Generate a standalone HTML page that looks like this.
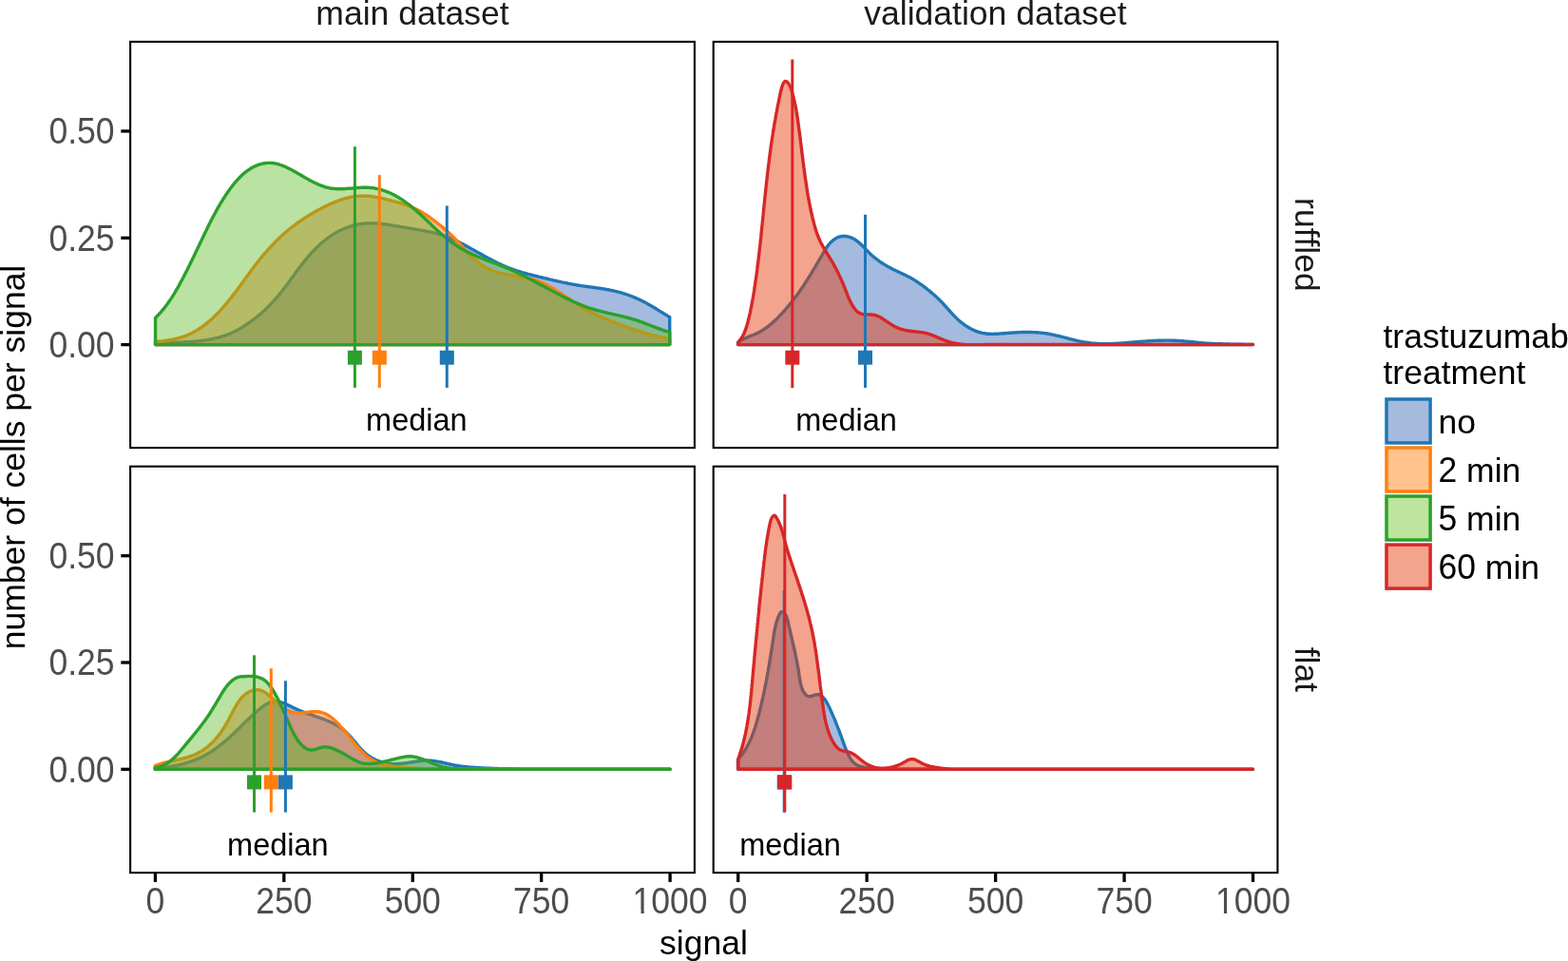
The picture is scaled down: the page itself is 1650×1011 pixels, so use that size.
<!DOCTYPE html>
<html><head><meta charset="utf-8"><title>density plot</title>
<style>html,body{margin:0;padding:0;background:#fff;}body{width:1650px;height:1011px;overflow:hidden;}svg{display:block;font-variant-ligatures:none;font-kerning:none;}</style>
</head><body>
<svg width="1650" height="1011" viewBox="0 0 1650 1011" font-family="'Liberation Sans', Arial, Helvetica, sans-serif">
<rect width="1650" height="1011" fill="#fff"/>
<g>
<path d="M163.50,362.60 L163.5,361.0 L165.1,360.9 L166.5,360.9 L168.0,360.8 L169.4,360.8 L170.9,360.7 L172.4,360.7 L173.9,360.6 L175.4,360.6 L176.8,360.5 L178.3,360.5 L179.8,360.4 L181.3,360.4 L182.8,360.3 L184.3,360.3 L185.8,360.2 L187.4,360.2 L188.9,360.1 L190.4,360.1 L191.9,360.0 L193.4,359.9 L194.9,359.8 L196.5,359.8 L198.0,359.7 L199.5,359.6 L201.0,359.5 L202.5,359.4 L204.0,359.2 L205.6,359.1 L207.1,359.0 L208.6,358.8 L210.1,358.6 L211.6,358.5 L213.1,358.3 L214.6,358.1 L216.1,357.9 L217.6,357.6 L219.0,357.4 L220.5,357.1 L222.0,356.8 L223.5,356.6 L224.9,356.2 L226.4,355.9 L227.8,355.6 L229.3,355.2 L230.7,354.8 L232.1,354.4 L233.5,354.0 L234.9,353.5 L236.3,353.1 L237.7,352.6 L239.1,352.1 L240.5,351.5 L241.9,351.0 L243.2,350.4 L244.6,349.8 L245.9,349.2 L247.2,348.5 L248.6,347.8 L249.9,347.2 L251.2,346.4 L252.5,345.7 L253.8,344.9 L255.1,344.2 L256.4,343.4 L257.6,342.6 L258.9,341.7 L260.1,340.9 L261.4,340.0 L262.6,339.2 L263.8,338.3 L265.0,337.4 L266.2,336.5 L267.4,335.6 L268.6,334.7 L269.8,333.7 L271.0,332.8 L272.1,331.8 L273.3,330.9 L274.4,329.9 L275.5,328.9 L276.7,327.9 L277.8,326.9 L278.9,325.9 L280.0,324.9 L281.0,323.8 L282.1,322.8 L283.2,321.7 L284.2,320.6 L285.3,319.6 L286.3,318.5 L287.3,317.4 L288.3,316.3 L289.3,315.2 L290.3,314.0 L291.3,312.9 L292.3,311.8 L293.2,310.6 L294.2,309.4 L295.1,308.3 L296.1,307.1 L297.0,305.9 L297.9,304.7 L298.8,303.5 L299.8,302.3 L300.7,301.1 L301.6,299.9 L302.5,298.7 L303.4,297.5 L304.3,296.3 L305.2,295.1 L306.0,293.8 L306.9,292.6 L307.8,291.4 L308.7,290.2 L309.6,289.0 L310.5,287.7 L311.4,286.5 L312.3,285.3 L313.2,284.1 L314.1,282.9 L315.0,281.7 L315.9,280.5 L316.8,279.3 L317.7,278.1 L318.7,276.9 L319.6,275.7 L320.5,274.5 L321.5,273.4 L322.4,272.2 L323.4,271.1 L324.3,269.9 L325.3,268.8 L326.3,267.7 L327.3,266.5 L328.3,265.4 L329.4,264.3 L330.4,263.3 L331.4,262.2 L332.5,261.1 L333.6,260.1 L334.7,259.1 L335.8,258.0 L336.9,257.0 L338.0,256.0 L339.1,255.1 L340.3,254.1 L341.4,253.2 L342.6,252.2 L343.8,251.3 L345.0,250.4 L346.2,249.6 L347.4,248.7 L348.6,247.9 L349.9,247.1 L351.2,246.3 L352.4,245.5 L353.7,244.8 L355.0,244.0 L356.3,243.3 L357.7,242.6 L359.0,242.0 L360.3,241.4 L361.7,240.7 L363.1,240.2 L364.5,239.6 L365.9,239.1 L367.3,238.6 L368.7,238.1 L370.1,237.6 L371.6,237.2 L373.0,236.8 L374.5,236.5 L375.9,236.2 L377.4,235.9 L378.9,235.6 L380.3,235.4 L381.8,235.3 L383.3,235.1 L384.8,235.0 L386.3,234.9 L387.8,234.9 L389.3,234.9 L390.8,234.9 L392.3,234.9 L393.8,234.9 L395.3,235.0 L396.8,235.1 L398.3,235.2 L399.8,235.4 L401.3,235.5 L402.8,235.7 L404.3,235.8 L405.8,236.0 L407.3,236.2 L408.8,236.4 L410.3,236.6 L411.8,236.9 L413.2,237.1 L414.7,237.3 L416.2,237.6 L417.7,237.8 L419.2,238.1 L420.7,238.3 L422.2,238.6 L423.6,238.9 L425.1,239.1 L426.6,239.4 L428.1,239.7 L429.6,239.9 L431.1,240.2 L432.6,240.4 L434.0,240.7 L435.5,240.9 L437.0,241.2 L438.5,241.4 L440.0,241.7 L441.5,241.9 L442.9,242.2 L444.4,242.5 L445.9,242.7 L447.4,243.0 L448.8,243.3 L450.3,243.6 L451.8,243.9 L453.2,244.2 L454.7,244.5 L456.2,244.9 L457.6,245.2 L459.0,245.6 L460.5,246.0 L461.9,246.4 L463.3,246.8 L464.8,247.2 L466.2,247.7 L467.6,248.1 L469.0,248.6 L470.4,249.1 L471.8,249.7 L473.2,250.2 L474.5,250.8 L475.9,251.4 L477.3,252.0 L478.6,252.6 L480.0,253.2 L481.3,253.9 L482.7,254.5 L484.0,255.2 L485.3,255.9 L486.7,256.6 L488.0,257.3 L489.3,258.0 L490.7,258.7 L492.0,259.5 L493.3,260.2 L494.6,260.9 L495.9,261.7 L497.3,262.4 L498.6,263.1 L499.9,263.9 L501.2,264.6 L502.5,265.4 L503.8,266.1 L505.2,266.8 L506.5,267.6 L507.8,268.3 L509.1,269.0 L510.4,269.8 L511.8,270.5 L513.1,271.2 L514.4,271.9 L515.7,272.6 L517.1,273.3 L518.4,274.0 L519.7,274.7 L521.1,275.3 L522.4,276.0 L523.8,276.7 L525.1,277.3 L526.5,277.9 L527.8,278.6 L529.2,279.2 L530.5,279.8 L531.9,280.4 L533.3,281.0 L534.6,281.5 L536.0,282.1 L537.4,282.6 L538.8,283.1 L540.2,283.6 L541.6,284.1 L543.0,284.6 L544.4,285.1 L545.8,285.5 L547.3,285.9 L548.7,286.4 L550.1,286.8 L551.6,287.2 L553.0,287.6 L554.4,288.0 L555.9,288.4 L557.3,288.7 L558.8,289.1 L560.2,289.5 L561.7,289.8 L563.1,290.2 L564.6,290.5 L566.1,290.9 L567.5,291.3 L569.0,291.6 L570.5,292.0 L571.9,292.3 L573.4,292.7 L574.9,293.0 L576.3,293.4 L577.8,293.7 L579.3,294.1 L580.8,294.4 L582.2,294.8 L583.7,295.1 L585.2,295.4 L586.7,295.8 L588.1,296.1 L589.6,296.4 L591.1,296.8 L592.6,297.1 L594.0,297.4 L595.5,297.7 L597.0,298.0 L598.5,298.3 L600.0,298.6 L601.4,298.9 L602.9,299.2 L604.4,299.4 L605.9,299.7 L607.4,300.0 L608.8,300.2 L610.3,300.4 L611.8,300.7 L613.3,300.9 L614.8,301.1 L616.2,301.3 L617.7,301.5 L619.2,301.7 L620.7,301.9 L622.1,302.1 L623.6,302.3 L625.1,302.5 L626.6,302.7 L628.0,302.9 L629.5,303.1 L631.0,303.3 L632.4,303.5 L633.9,303.8 L635.4,304.0 L636.8,304.2 L638.3,304.5 L639.8,304.8 L641.2,305.0 L642.7,305.3 L644.2,305.6 L645.6,305.9 L647.1,306.3 L648.5,306.6 L650.0,307.0 L651.4,307.3 L652.9,307.7 L654.3,308.1 L655.7,308.6 L657.2,309.0 L658.6,309.5 L660.0,310.0 L661.5,310.5 L662.9,311.0 L664.3,311.5 L665.7,312.1 L667.1,312.7 L668.5,313.2 L669.9,313.9 L671.3,314.5 L672.6,315.1 L674.0,315.8 L675.4,316.4 L676.7,317.1 L678.1,317.8 L679.4,318.5 L680.7,319.2 L682.1,320.0 L683.4,320.7 L684.7,321.4 L686.0,322.2 L687.3,323.0 L688.6,323.7 L689.9,324.5 L691.2,325.3 L692.4,326.1 L693.7,326.9 L695.0,327.7 L696.2,328.4 L697.5,329.2 L698.7,330.0 L700.0,330.8 L701.2,331.6 L702.5,332.3 L703.7,333.1 L704.7,333.6 L704.70,362.60 Z" fill="rgb(56,101,183)" fill-opacity="0.450" stroke="#1f77b4" stroke-width="3.40" stroke-linejoin="round"/>
<path d="M163.50,362.60 L163.5,359.7 L164.9,359.5 L166.4,359.4 L167.9,359.2 L169.5,359.1 L171.0,358.9 L172.5,358.7 L174.0,358.5 L175.5,358.3 L176.9,358.0 L178.4,357.8 L179.9,357.5 L181.4,357.2 L182.9,356.9 L184.3,356.5 L185.8,356.2 L187.3,355.8 L188.7,355.4 L190.1,355.0 L191.6,354.5 L193.0,354.1 L194.4,353.6 L195.8,353.1 L197.2,352.5 L198.5,351.9 L199.9,351.3 L201.2,350.7 L202.6,350.0 L203.9,349.3 L205.2,348.6 L206.5,347.9 L207.7,347.1 L209.0,346.3 L210.3,345.5 L211.5,344.6 L212.7,343.8 L213.9,342.9 L215.2,342.0 L216.3,341.1 L217.5,340.1 L218.7,339.2 L219.8,338.2 L221.0,337.2 L222.1,336.2 L223.2,335.2 L224.3,334.2 L225.4,333.1 L226.5,332.1 L227.6,331.0 L228.6,329.9 L229.7,328.9 L230.7,327.8 L231.7,326.7 L232.8,325.6 L233.8,324.4 L234.8,323.3 L235.7,322.2 L236.7,321.1 L237.7,319.9 L238.7,318.8 L239.6,317.6 L240.6,316.5 L241.5,315.3 L242.4,314.1 L243.3,313.0 L244.3,311.8 L245.2,310.6 L246.1,309.4 L247.0,308.2 L247.9,307.1 L248.8,305.9 L249.7,304.7 L250.6,303.5 L251.5,302.3 L252.4,301.1 L253.2,299.9 L254.1,298.7 L255.0,297.4 L255.9,296.2 L256.8,295.0 L257.6,293.8 L258.5,292.6 L259.4,291.4 L260.3,290.2 L261.2,289.0 L262.1,287.8 L263.0,286.6 L263.8,285.3 L264.7,284.1 L265.6,282.9 L266.5,281.7 L267.5,280.5 L268.4,279.3 L269.3,278.1 L270.2,277.0 L271.1,275.8 L272.1,274.6 L273.0,273.4 L274.0,272.2 L274.9,271.1 L275.9,269.9 L276.8,268.7 L277.8,267.6 L278.8,266.4 L279.8,265.3 L280.8,264.1 L281.8,263.0 L282.8,261.9 L283.8,260.8 L284.8,259.7 L285.8,258.6 L286.9,257.5 L287.9,256.4 L288.9,255.3 L290.0,254.2 L291.1,253.1 L292.1,252.1 L293.2,251.0 L294.3,250.0 L295.4,249.0 L296.5,248.0 L297.6,247.0 L298.7,246.0 L299.8,245.0 L301.0,244.0 L302.1,243.0 L303.2,242.1 L304.4,241.1 L305.5,240.2 L306.7,239.3 L307.9,238.4 L309.1,237.5 L310.3,236.6 L311.5,235.7 L312.7,234.8 L313.9,233.9 L315.1,233.1 L316.3,232.3 L317.6,231.4 L318.8,230.6 L320.0,229.8 L321.3,229.0 L322.6,228.2 L323.8,227.4 L325.1,226.6 L326.4,225.8 L327.7,225.0 L329.0,224.3 L330.3,223.5 L331.6,222.8 L332.9,222.1 L334.2,221.3 L335.5,220.6 L336.9,219.9 L338.2,219.2 L339.5,218.5 L340.9,217.8 L342.3,217.1 L343.6,216.4 L345.0,215.8 L346.4,215.1 L347.7,214.5 L349.1,213.9 L350.5,213.3 L351.9,212.7 L353.3,212.1 L354.7,211.6 L356.1,211.0 L357.5,210.5 L358.9,210.0 L360.4,209.6 L361.8,209.1 L363.2,208.7 L364.7,208.3 L366.1,208.0 L367.6,207.6 L369.0,207.3 L370.5,207.1 L371.9,206.9 L373.4,206.7 L374.9,206.5 L376.4,206.4 L377.8,206.2 L379.3,206.2 L380.8,206.1 L382.3,206.1 L383.8,206.1 L385.3,206.2 L386.7,206.3 L388.2,206.4 L389.7,206.5 L391.2,206.7 L392.7,206.9 L394.2,207.1 L395.7,207.4 L397.2,207.6 L398.7,207.9 L400.2,208.2 L401.7,208.6 L403.1,208.9 L404.6,209.2 L406.1,209.6 L407.6,210.0 L409.0,210.3 L410.5,210.7 L412.0,211.1 L413.4,211.5 L414.9,211.9 L416.4,212.3 L417.8,212.7 L419.2,213.1 L420.7,213.5 L422.1,213.9 L423.5,214.4 L425.0,214.8 L426.4,215.3 L427.8,215.8 L429.2,216.3 L430.6,216.8 L431.9,217.4 L433.3,217.9 L434.7,218.5 L436.0,219.1 L437.4,219.8 L438.7,220.4 L440.0,221.1 L441.4,221.8 L442.7,222.5 L444.0,223.3 L445.2,224.1 L446.5,224.9 L447.8,225.7 L449.1,226.5 L450.3,227.3 L451.5,228.2 L452.8,229.1 L454.0,230.0 L455.2,230.8 L456.4,231.7 L457.6,232.7 L458.8,233.6 L460.0,234.5 L461.2,235.4 L462.3,236.3 L463.5,237.2 L464.6,238.2 L465.8,239.1 L466.9,240.1 L468.0,241.0 L469.1,242.0 L470.2,243.0 L471.3,244.0 L472.4,244.9 L473.5,246.0 L474.6,247.0 L475.7,248.0 L476.7,249.0 L477.8,250.1 L478.9,251.2 L479.9,252.3 L480.9,253.4 L482.0,254.5 L483.0,255.6 L484.0,256.7 L485.1,257.9 L486.1,259.0 L487.1,260.2 L488.2,261.3 L489.2,262.5 L490.2,263.6 L491.3,264.7 L492.3,265.9 L493.3,267.0 L494.4,268.1 L495.5,269.2 L496.5,270.2 L497.6,271.3 L498.7,272.3 L499.8,273.4 L501.0,274.4 L502.1,275.3 L503.2,276.3 L504.4,277.2 L505.6,278.1 L506.8,278.9 L508.0,279.7 L509.3,280.5 L510.5,281.2 L511.8,281.9 L513.1,282.6 L514.5,283.2 L515.8,283.8 L517.2,284.3 L518.6,284.8 L520.0,285.3 L521.4,285.8 L522.8,286.2 L524.2,286.7 L525.7,287.1 L527.1,287.4 L528.6,287.8 L530.0,288.1 L531.5,288.4 L533.0,288.7 L534.5,289.0 L536.0,289.3 L537.5,289.6 L539.0,289.8 L540.5,290.1 L542.0,290.3 L543.4,290.6 L544.9,290.8 L546.4,291.0 L547.9,291.3 L549.4,291.5 L550.9,291.8 L552.3,292.0 L553.8,292.3 L555.2,292.6 L556.7,292.9 L558.1,293.2 L559.5,293.6 L560.9,294.0 L562.4,294.4 L563.8,294.9 L565.2,295.3 L566.6,295.9 L568.0,296.4 L569.3,297.0 L570.7,297.6 L572.1,298.2 L573.4,298.9 L574.8,299.5 L576.1,300.3 L577.4,301.0 L578.8,301.7 L580.1,302.5 L581.4,303.2 L582.7,304.0 L584.0,304.8 L585.3,305.6 L586.6,306.4 L587.9,307.2 L589.1,308.0 L590.4,308.8 L591.7,309.6 L592.9,310.5 L594.2,311.3 L595.4,312.1 L596.7,313.0 L597.9,313.8 L599.2,314.6 L600.5,315.5 L601.7,316.3 L603.0,317.1 L604.2,318.0 L605.5,318.8 L606.7,319.6 L608.0,320.4 L609.2,321.2 L610.5,322.0 L611.8,322.8 L613.1,323.5 L614.3,324.3 L615.6,325.1 L616.9,325.8 L618.2,326.5 L619.5,327.2 L620.8,327.9 L622.2,328.6 L623.5,329.3 L624.8,330.0 L626.2,330.6 L627.5,331.3 L628.9,331.9 L630.2,332.5 L631.6,333.1 L633.0,333.7 L634.3,334.3 L635.7,334.9 L637.1,335.4 L638.5,336.0 L639.9,336.5 L641.3,337.1 L642.7,337.6 L644.1,338.2 L645.5,338.7 L646.9,339.2 L648.3,339.8 L649.7,340.3 L651.1,340.8 L652.5,341.3 L653.9,341.9 L655.3,342.4 L656.8,342.9 L658.2,343.4 L659.6,343.9 L661.0,344.4 L662.4,344.9 L663.9,345.4 L665.3,345.9 L666.7,346.4 L668.1,346.9 L669.6,347.3 L671.0,347.8 L672.4,348.3 L673.9,348.7 L675.3,349.2 L676.7,349.6 L678.2,350.1 L679.6,350.5 L681.0,350.9 L682.5,351.4 L683.9,351.8 L685.4,352.2 L686.8,352.6 L688.3,352.9 L689.7,353.3 L691.2,353.7 L692.6,354.1 L694.1,354.4 L695.5,354.7 L697.0,355.1 L698.4,355.4 L699.9,355.7 L701.3,356.0 L702.8,356.3 L704.3,356.6 L704.7,356.7 L704.70,362.60 Z" fill="rgb(243,110,20)" fill-opacity="0.454" stroke="#ff7f0e" stroke-width="3.40" stroke-linejoin="round"/>
<path d="M163.50,362.60 L163.5,334.5 L164.5,333.4 L165.6,332.3 L166.7,331.2 L167.7,330.1 L168.8,328.9 L169.8,327.8 L170.7,326.6 L171.7,325.5 L172.7,324.3 L173.6,323.1 L174.5,321.9 L175.4,320.7 L176.3,319.5 L177.1,318.3 L178.0,317.1 L178.8,315.9 L179.7,314.6 L180.5,313.4 L181.3,312.2 L182.1,310.9 L182.9,309.6 L183.6,308.4 L184.4,307.1 L185.1,305.8 L185.9,304.5 L186.6,303.3 L187.4,302.0 L188.1,300.7 L188.8,299.4 L189.5,298.1 L190.2,296.7 L190.9,295.4 L191.7,294.1 L192.4,292.8 L193.1,291.5 L193.7,290.1 L194.4,288.8 L195.1,287.4 L195.8,286.1 L196.5,284.8 L197.2,283.4 L197.9,282.1 L198.5,280.7 L199.2,279.4 L199.9,278.0 L200.5,276.6 L201.2,275.3 L201.9,273.9 L202.5,272.6 L203.2,271.2 L203.9,269.8 L204.5,268.5 L205.2,267.1 L205.8,265.7 L206.5,264.4 L207.1,263.0 L207.8,261.7 L208.4,260.3 L209.1,258.9 L209.7,257.6 L210.4,256.2 L211.0,254.8 L211.7,253.5 L212.3,252.1 L213.0,250.8 L213.6,249.4 L214.3,248.1 L214.9,246.7 L215.6,245.4 L216.2,244.0 L216.9,242.7 L217.5,241.3 L218.2,240.0 L218.8,238.7 L219.5,237.3 L220.1,236.0 L220.8,234.7 L221.5,233.4 L222.1,232.0 L222.8,230.7 L223.5,229.4 L224.2,228.1 L224.9,226.8 L225.6,225.5 L226.3,224.2 L227.0,222.9 L227.7,221.6 L228.4,220.3 L229.1,219.0 L229.9,217.7 L230.6,216.4 L231.4,215.1 L232.1,213.8 L232.9,212.6 L233.7,211.3 L234.5,210.0 L235.3,208.7 L236.1,207.5 L236.9,206.2 L237.8,204.9 L238.6,203.7 L239.5,202.4 L240.3,201.2 L241.2,199.9 L242.1,198.7 L243.0,197.5 L244.0,196.2 L244.9,195.0 L245.9,193.8 L246.8,192.6 L247.8,191.5 L248.8,190.3 L249.8,189.2 L250.9,188.1 L251.9,187.0 L253.0,185.9 L254.1,184.8 L255.2,183.8 L256.3,182.8 L257.4,181.9 L258.6,180.9 L259.8,180.0 L261.0,179.1 L262.2,178.3 L263.4,177.5 L264.7,176.7 L266.0,176.0 L267.3,175.3 L268.6,174.7 L270.0,174.1 L271.3,173.6 L272.7,173.1 L274.1,172.7 L275.6,172.3 L277.1,172.0 L278.5,171.8 L280.0,171.6 L281.5,171.4 L283.0,171.4 L284.5,171.4 L286.0,171.5 L287.4,171.6 L288.9,171.8 L290.3,172.1 L291.8,172.4 L293.2,172.8 L294.6,173.3 L296.0,173.7 L297.4,174.3 L298.8,174.8 L300.2,175.4 L301.5,176.0 L302.9,176.7 L304.2,177.4 L305.6,178.1 L306.9,178.8 L308.3,179.5 L309.6,180.2 L311.0,181.0 L312.3,181.7 L313.6,182.5 L315.0,183.3 L316.3,184.0 L317.6,184.8 L318.9,185.6 L320.3,186.4 L321.6,187.1 L322.9,187.9 L324.2,188.6 L325.6,189.4 L326.9,190.1 L328.2,190.8 L329.6,191.5 L330.9,192.1 L332.3,192.8 L333.6,193.4 L335.0,194.0 L336.3,194.6 L337.7,195.1 L339.1,195.6 L340.5,196.1 L341.9,196.6 L343.3,197.0 L344.7,197.3 L346.1,197.7 L347.5,198.0 L349.0,198.2 L350.4,198.4 L351.9,198.5 L353.4,198.6 L354.8,198.7 L356.3,198.8 L357.8,198.8 L359.3,198.7 L360.9,198.7 L362.4,198.6 L363.9,198.5 L365.4,198.4 L366.9,198.3 L368.5,198.2 L370.0,198.1 L371.5,198.0 L373.1,197.8 L374.6,197.7 L376.1,197.6 L377.7,197.5 L379.2,197.4 L380.7,197.3 L382.2,197.3 L383.8,197.3 L385.3,197.3 L386.8,197.3 L388.3,197.4 L389.8,197.5 L391.2,197.6 L392.7,197.8 L394.2,198.0 L395.6,198.3 L397.1,198.6 L398.5,198.9 L399.9,199.3 L401.3,199.7 L402.7,200.1 L404.1,200.6 L405.5,201.0 L406.9,201.6 L408.3,202.1 L409.7,202.7 L411.0,203.3 L412.4,204.0 L413.7,204.6 L415.0,205.3 L416.3,206.0 L417.6,206.8 L418.9,207.5 L420.2,208.3 L421.5,209.1 L422.8,209.9 L424.0,210.7 L425.3,211.6 L426.5,212.5 L427.7,213.4 L429.0,214.3 L430.2,215.2 L431.4,216.1 L432.6,217.0 L433.7,218.0 L434.9,219.0 L436.1,219.9 L437.2,220.9 L438.4,221.9 L439.5,222.9 L440.6,223.9 L441.7,224.9 L442.8,225.9 L443.9,226.9 L445.0,227.9 L446.1,228.9 L447.1,230.0 L448.2,231.0 L449.3,232.0 L450.4,233.0 L451.4,234.1 L452.5,235.1 L453.6,236.1 L454.6,237.1 L455.7,238.2 L456.8,239.2 L457.8,240.2 L458.9,241.2 L460.0,242.2 L461.1,243.2 L462.2,244.2 L463.3,245.2 L464.4,246.2 L465.5,247.2 L466.7,248.1 L467.8,249.1 L469.0,250.0 L470.1,251.0 L471.3,251.9 L472.5,252.8 L473.7,253.7 L475.0,254.6 L476.2,255.5 L477.4,256.4 L478.7,257.3 L480.0,258.1 L481.2,258.9 L482.5,259.7 L483.8,260.5 L485.1,261.3 L486.5,262.1 L487.8,262.8 L489.1,263.6 L490.4,264.3 L491.8,265.0 L493.1,265.6 L494.5,266.3 L495.9,267.0 L497.2,267.6 L498.6,268.2 L500.0,268.8 L501.3,269.4 L502.7,270.0 L504.1,270.5 L505.5,271.1 L506.9,271.7 L508.3,272.2 L509.7,272.8 L511.1,273.3 L512.5,273.8 L513.9,274.4 L515.3,274.9 L516.7,275.4 L518.1,275.9 L519.5,276.5 L520.9,277.0 L522.3,277.5 L523.7,278.1 L525.1,278.6 L526.5,279.1 L527.8,279.7 L529.2,280.3 L530.6,280.8 L532.0,281.4 L533.4,282.0 L534.7,282.6 L536.1,283.2 L537.5,283.8 L538.8,284.4 L540.2,285.0 L541.5,285.6 L542.9,286.3 L544.2,286.9 L545.6,287.5 L546.9,288.2 L548.3,288.8 L549.6,289.5 L551.0,290.2 L552.3,290.8 L553.6,291.5 L555.0,292.2 L556.3,292.9 L557.6,293.6 L559.0,294.3 L560.3,294.9 L561.6,295.6 L563.0,296.3 L564.3,297.0 L565.6,297.7 L566.9,298.4 L568.3,299.2 L569.6,299.9 L570.9,300.6 L572.3,301.3 L573.6,302.0 L574.9,302.7 L576.2,303.4 L577.6,304.1 L578.9,304.9 L580.2,305.6 L581.6,306.3 L582.9,307.0 L584.2,307.7 L585.6,308.4 L586.9,309.1 L588.2,309.8 L589.6,310.5 L590.9,311.2 L592.3,311.9 L593.6,312.6 L595.0,313.3 L596.3,313.9 L597.7,314.6 L599.0,315.3 L600.4,315.9 L601.7,316.6 L603.1,317.2 L604.5,317.8 L605.8,318.4 L607.2,319.0 L608.6,319.6 L609.9,320.2 L611.3,320.7 L612.7,321.3 L614.1,321.8 L615.5,322.4 L616.9,322.9 L618.3,323.4 L619.7,323.8 L621.1,324.3 L622.5,324.7 L623.9,325.2 L625.4,325.6 L626.8,326.0 L628.2,326.4 L629.7,326.8 L631.1,327.2 L632.5,327.5 L634.0,327.9 L635.4,328.2 L636.9,328.6 L638.3,328.9 L639.8,329.3 L641.2,329.6 L642.7,329.9 L644.1,330.3 L645.6,330.6 L647.0,330.9 L648.5,331.3 L650.0,331.6 L651.4,331.9 L652.9,332.3 L654.3,332.6 L655.8,333.0 L657.3,333.4 L658.7,333.7 L660.2,334.1 L661.6,334.5 L663.1,334.9 L664.5,335.3 L666.0,335.8 L667.4,336.2 L668.9,336.7 L670.3,337.1 L671.8,337.6 L673.2,338.1 L674.7,338.6 L676.1,339.2 L677.5,339.7 L679.0,340.3 L680.4,340.8 L681.8,341.4 L683.3,341.9 L684.7,342.5 L686.1,343.0 L687.5,343.6 L688.9,344.1 L690.3,344.6 L691.7,345.2 L693.1,345.7 L694.5,346.2 L695.9,346.7 L697.2,347.2 L698.6,347.6 L700.0,348.1 L701.3,348.5 L702.7,348.9 L704.0,349.3 L704.7,349.4 L704.70,362.60 Z" fill="rgb(87,187,36)" fill-opacity="0.421" stroke="#2ca02c" stroke-width="3.40" stroke-linejoin="round"/>
<line x1="470.30" y1="216.50" x2="470.30" y2="407.90" stroke="#1f77b4" stroke-width="3"/>
<rect x="462.80" y="368.70" width="15" height="15" fill="#1f77b4"/>
<line x1="399.30" y1="184.10" x2="399.30" y2="407.90" stroke="#ff7f0e" stroke-width="3"/>
<rect x="391.80" y="368.70" width="15" height="15" fill="#ff7f0e"/>
<line x1="373.40" y1="154.20" x2="373.40" y2="407.90" stroke="#2ca02c" stroke-width="3"/>
<rect x="365.90" y="368.70" width="15" height="15" fill="#2ca02c"/>
<text x="438.40" y="452.80" font-size="32.5" text-anchor="middle" fill="#000">median</text>
<rect x="137.10" y="43.90" width="593.80" height="427.20" fill="none" stroke="#000" stroke-width="2.1"/>
</g>
<g>
<path d="M776.50,362.60 L776.5,360.5 L777.5,359.6 L778.7,358.8 L780.0,358.0 L781.3,357.3 L782.6,356.6 L783.9,356.0 L785.2,355.4 L786.6,354.8 L788.0,354.2 L789.3,353.7 L790.7,353.1 L792.1,352.5 L793.5,352.0 L794.9,351.4 L796.2,350.7 L797.6,350.1 L798.9,349.4 L800.2,348.7 L801.6,348.0 L802.8,347.2 L804.1,346.4 L805.4,345.5 L806.6,344.6 L807.8,343.7 L809.0,342.8 L810.2,341.8 L811.4,340.9 L812.5,339.9 L813.6,338.8 L814.8,337.8 L815.9,336.8 L817.0,335.7 L818.1,334.6 L819.1,333.6 L820.2,332.5 L821.2,331.4 L822.3,330.3 L823.3,329.2 L824.3,328.1 L825.3,327.0 L826.3,325.9 L827.3,324.8 L828.2,323.6 L829.2,322.5 L830.1,321.4 L831.1,320.2 L832.0,319.1 L832.9,317.9 L833.8,316.7 L834.7,315.6 L835.6,314.4 L836.5,313.2 L837.4,312.1 L838.3,310.9 L839.2,309.7 L840.0,308.5 L840.9,307.3 L841.7,306.1 L842.6,304.8 L843.4,303.6 L844.2,302.4 L845.0,301.2 L845.9,299.9 L846.7,298.7 L847.5,297.4 L848.3,296.2 L849.1,294.9 L849.9,293.7 L850.7,292.4 L851.5,291.1 L852.3,289.9 L853.1,288.6 L853.9,287.3 L854.6,286.0 L855.4,284.7 L856.2,283.4 L857.0,282.1 L857.8,280.8 L858.5,279.5 L859.3,278.2 L860.1,276.8 L860.9,275.5 L861.7,274.2 L862.4,272.8 L863.2,271.5 L864.0,270.1 L864.8,268.8 L865.6,267.4 L866.4,266.1 L867.1,264.7 L868.0,263.4 L868.8,262.1 L869.6,260.8 L870.5,259.5 L871.4,258.3 L872.3,257.1 L873.3,256.0 L874.2,254.9 L875.3,253.9 L876.4,252.9 L877.5,252.1 L878.7,251.3 L879.9,250.6 L881.2,249.9 L882.5,249.4 L883.9,249.0 L885.3,248.7 L886.7,248.5 L888.1,248.4 L889.6,248.5 L891.0,248.7 L892.4,248.9 L893.8,249.3 L895.2,249.8 L896.6,250.4 L897.9,251.1 L899.2,251.8 L900.5,252.6 L901.8,253.5 L903.0,254.5 L904.2,255.4 L905.3,256.4 L906.4,257.5 L907.5,258.6 L908.6,259.6 L909.7,260.7 L910.7,261.8 L911.7,263.0 L912.8,264.0 L913.8,265.1 L914.9,266.2 L916.0,267.2 L917.1,268.3 L918.2,269.3 L919.4,270.2 L920.5,271.2 L921.7,272.1 L922.9,273.0 L924.1,273.9 L925.3,274.8 L926.6,275.7 L927.8,276.5 L929.1,277.3 L930.4,278.1 L931.6,278.9 L932.9,279.6 L934.2,280.4 L935.5,281.1 L936.9,281.8 L938.2,282.5 L939.5,283.2 L940.8,283.8 L942.2,284.5 L943.5,285.1 L944.8,285.7 L946.2,286.4 L947.5,287.0 L948.9,287.6 L950.2,288.2 L951.5,288.9 L952.9,289.5 L954.2,290.2 L955.5,290.9 L956.9,291.6 L958.2,292.3 L959.5,293.1 L960.8,293.8 L962.1,294.6 L963.4,295.4 L964.7,296.2 L965.9,297.1 L967.2,297.9 L968.5,298.8 L969.7,299.6 L970.9,300.5 L972.1,301.4 L973.4,302.4 L974.6,303.3 L975.7,304.2 L976.9,305.2 L978.1,306.1 L979.3,307.1 L980.4,308.0 L981.5,309.0 L982.7,310.0 L983.8,310.9 L984.9,311.9 L985.9,312.9 L987.0,313.9 L988.1,315.0 L989.1,316.0 L990.2,317.1 L991.2,318.1 L992.2,319.2 L993.2,320.3 L994.2,321.4 L995.2,322.5 L996.2,323.6 L997.2,324.7 L998.2,325.9 L999.2,327.0 L1000.2,328.1 L1001.2,329.2 L1002.2,330.3 L1003.2,331.4 L1004.3,332.5 L1005.4,333.6 L1006.4,334.6 L1007.5,335.7 L1008.6,336.7 L1009.8,337.7 L1010.9,338.7 L1012.1,339.6 L1013.3,340.5 L1014.6,341.4 L1015.8,342.3 L1017.1,343.2 L1018.4,344.0 L1019.7,344.7 L1021.0,345.5 L1022.3,346.2 L1023.7,346.9 L1025.1,347.5 L1026.4,348.1 L1027.8,348.6 L1029.2,349.1 L1030.6,349.5 L1032.1,349.9 L1033.5,350.3 L1034.9,350.6 L1036.4,350.8 L1037.8,351.0 L1039.3,351.2 L1040.7,351.3 L1042.2,351.3 L1043.7,351.4 L1045.1,351.4 L1046.6,351.3 L1048.1,351.3 L1049.6,351.2 L1051.1,351.1 L1052.6,351.0 L1054.1,350.9 L1055.6,350.8 L1057.1,350.7 L1058.6,350.5 L1060.1,350.4 L1061.6,350.3 L1063.1,350.2 L1064.6,350.1 L1066.1,350.0 L1067.7,349.9 L1069.2,349.8 L1070.7,349.7 L1072.2,349.6 L1073.7,349.6 L1075.2,349.5 L1076.7,349.5 L1078.2,349.5 L1079.7,349.4 L1081.2,349.4 L1082.7,349.5 L1084.2,349.5 L1085.7,349.5 L1087.2,349.6 L1088.7,349.6 L1090.2,349.7 L1091.7,349.8 L1093.2,349.9 L1094.7,350.1 L1096.2,350.2 L1097.7,350.4 L1099.1,350.6 L1100.6,350.8 L1102.1,351.0 L1103.6,351.3 L1105.1,351.5 L1106.5,351.8 L1108.0,352.1 L1109.5,352.4 L1111.0,352.8 L1112.5,353.1 L1113.9,353.5 L1115.4,353.8 L1116.9,354.2 L1118.3,354.6 L1119.8,354.9 L1121.3,355.3 L1122.8,355.7 L1124.2,356.1 L1125.7,356.5 L1127.2,356.9 L1128.6,357.2 L1130.1,357.6 L1131.6,358.0 L1133.0,358.3 L1134.5,358.7 L1136.0,359.0 L1137.5,359.3 L1138.9,359.6 L1140.4,359.8 L1141.9,360.1 L1143.3,360.3 L1144.8,360.5 L1146.3,360.7 L1147.8,360.9 L1149.2,361.1 L1150.7,361.2 L1152.2,361.3 L1153.7,361.5 L1155.1,361.5 L1156.6,361.6 L1158.1,361.7 L1159.6,361.7 L1161.1,361.7 L1162.6,361.7 L1164.0,361.7 L1165.5,361.7 L1167.0,361.7 L1168.5,361.6 L1170.0,361.6 L1171.5,361.5 L1173.0,361.5 L1174.4,361.4 L1175.9,361.3 L1177.4,361.2 L1178.9,361.1 L1180.4,361.0 L1181.9,360.9 L1183.4,360.8 L1184.9,360.7 L1186.4,360.5 L1187.9,360.4 L1189.4,360.3 L1190.9,360.2 L1192.4,360.0 L1193.8,359.9 L1195.3,359.8 L1196.8,359.7 L1198.3,359.5 L1199.8,359.4 L1201.3,359.3 L1202.8,359.2 L1204.3,359.1 L1205.8,359.0 L1207.3,358.9 L1208.8,358.8 L1210.3,358.7 L1211.8,358.6 L1213.3,358.5 L1214.8,358.4 L1216.3,358.4 L1217.8,358.3 L1219.3,358.3 L1220.8,358.2 L1222.3,358.2 L1223.8,358.1 L1225.3,358.1 L1226.9,358.1 L1228.4,358.1 L1229.9,358.1 L1231.4,358.1 L1232.9,358.2 L1234.4,358.2 L1235.9,358.3 L1237.4,358.3 L1238.9,358.4 L1240.4,358.5 L1241.9,358.6 L1243.4,358.7 L1244.9,358.8 L1246.4,359.0 L1247.9,359.1 L1249.4,359.2 L1250.9,359.4 L1252.4,359.5 L1253.9,359.7 L1255.4,359.8 L1256.9,360.0 L1258.4,360.2 L1259.9,360.3 L1261.4,360.5 L1262.9,360.6 L1264.4,360.7 L1265.9,360.9 L1267.4,361.0 L1268.9,361.1 L1270.4,361.2 L1271.9,361.3 L1273.4,361.4 L1274.9,361.4 L1276.4,361.5 L1277.9,361.6 L1279.4,361.6 L1280.9,361.7 L1282.4,361.7 L1283.9,361.8 L1285.4,361.8 L1286.9,361.9 L1288.4,361.9 L1289.9,362.0 L1291.4,362.0 L1292.8,362.0 L1294.3,362.1 L1295.8,362.1 L1297.3,362.1 L1298.8,362.2 L1300.3,362.2 L1301.8,362.2 L1303.3,362.3 L1304.8,362.3 L1306.3,362.3 L1307.7,362.3 L1309.2,362.4 L1310.7,362.4 L1312.2,362.4 L1313.7,362.4 L1315.2,362.5 L1316.6,362.5 L1318.1,362.5 L1318.5,362.5 L1318.50,362.60 Z" fill="rgb(56,101,183)" fill-opacity="0.450" stroke="#1f77b4" stroke-width="3.40" stroke-linejoin="round"/>
<path d="M776.90,362.60 L776.9,359.8 L778.0,358.5 L779.0,357.2 L780.0,356.0 L780.8,354.7 L781.6,353.3 L782.3,352.0 L783.0,350.7 L783.5,349.3 L784.1,348.0 L784.6,346.6 L785.0,345.2 L785.5,343.9 L785.9,342.5 L786.3,341.1 L786.7,339.7 L787.1,338.2 L787.4,336.8 L787.8,335.4 L788.2,333.9 L788.5,332.5 L788.8,331.0 L789.2,329.6 L789.5,328.1 L789.8,326.6 L790.1,325.2 L790.4,323.7 L790.7,322.2 L791.0,320.7 L791.3,319.2 L791.5,317.8 L791.8,316.3 L792.1,314.8 L792.3,313.3 L792.6,311.8 L792.8,310.3 L793.1,308.8 L793.3,307.3 L793.6,305.8 L793.8,304.3 L794.0,302.8 L794.2,301.3 L794.5,299.8 L794.7,298.3 L794.9,296.8 L795.1,295.4 L795.3,293.9 L795.6,292.4 L795.8,290.9 L796.0,289.4 L796.2,287.9 L796.4,286.4 L796.6,284.9 L796.8,283.4 L796.9,282.0 L797.1,280.5 L797.3,279.0 L797.5,277.5 L797.7,276.0 L797.9,274.5 L798.1,273.0 L798.2,271.5 L798.4,270.1 L798.6,268.6 L798.8,267.1 L798.9,265.6 L799.1,264.1 L799.3,262.6 L799.4,261.1 L799.6,259.6 L799.8,258.2 L799.9,256.7 L800.1,255.2 L800.2,253.7 L800.4,252.2 L800.6,250.7 L800.7,249.2 L800.9,247.8 L801.0,246.3 L801.2,244.8 L801.3,243.3 L801.5,241.8 L801.6,240.3 L801.8,238.8 L801.9,237.3 L802.1,235.9 L802.2,234.4 L802.4,232.9 L802.5,231.4 L802.7,229.9 L802.8,228.4 L803.0,226.9 L803.1,225.4 L803.3,223.9 L803.4,222.5 L803.6,221.0 L803.7,219.5 L803.9,218.0 L804.0,216.5 L804.2,215.0 L804.3,213.5 L804.5,212.0 L804.6,210.5 L804.8,209.0 L804.9,207.5 L805.1,206.0 L805.3,204.5 L805.4,203.0 L805.6,201.5 L805.7,200.0 L805.9,198.6 L806.0,197.1 L806.2,195.6 L806.4,194.1 L806.5,192.6 L806.7,191.1 L806.9,189.6 L807.0,188.1 L807.2,186.6 L807.4,185.1 L807.5,183.6 L807.7,182.1 L807.9,180.6 L808.1,179.1 L808.2,177.6 L808.4,176.1 L808.6,174.6 L808.8,173.1 L809.0,171.6 L809.2,170.2 L809.3,168.7 L809.5,167.2 L809.7,165.7 L809.9,164.2 L810.1,162.7 L810.3,161.2 L810.5,159.7 L810.7,158.3 L810.9,156.8 L811.1,155.3 L811.3,153.8 L811.5,152.3 L811.8,150.9 L812.0,149.4 L812.2,147.9 L812.4,146.4 L812.6,145.0 L812.8,143.5 L813.1,142.0 L813.3,140.5 L813.5,139.1 L813.8,137.6 L814.0,136.1 L814.3,134.7 L814.5,133.2 L814.7,131.7 L815.0,130.2 L815.2,128.8 L815.5,127.3 L815.8,125.8 L816.0,124.4 L816.3,122.9 L816.5,121.4 L816.8,119.9 L817.1,118.4 L817.4,117.0 L817.6,115.5 L817.9,114.0 L818.2,112.5 L818.5,111.0 L818.8,109.5 L819.1,108.0 L819.4,106.5 L819.7,105.0 L820.0,103.5 L820.3,102.0 L820.6,100.5 L821.0,99.0 L821.3,97.5 L821.6,96.0 L822.0,94.5 L822.4,93.0 L822.8,91.5 L823.3,90.1 L823.8,88.7 L824.5,87.3 L825.2,86.2 L826.0,85.5 L827.0,85.4 L828.0,85.9 L829.0,87.0 L830.0,88.4 L830.9,89.8 L831.6,91.2 L832.2,92.7 L832.7,94.1 L833.1,95.6 L833.5,97.0 L833.9,98.4 L834.3,99.9 L834.7,101.3 L835.1,102.8 L835.4,104.2 L835.8,105.7 L836.1,107.1 L836.4,108.6 L836.8,110.0 L837.1,111.5 L837.3,112.9 L837.6,114.4 L837.9,115.9 L838.1,117.3 L838.4,118.8 L838.6,120.3 L838.8,121.7 L839.0,123.2 L839.3,124.7 L839.5,126.2 L839.7,127.6 L839.9,129.1 L840.1,130.6 L840.3,132.1 L840.5,133.6 L840.7,135.0 L840.9,136.5 L841.1,138.0 L841.3,139.5 L841.5,141.0 L841.7,142.5 L841.9,144.0 L842.1,145.5 L842.2,147.0 L842.4,148.5 L842.6,150.0 L842.8,151.5 L843.0,153.0 L843.2,154.5 L843.4,156.0 L843.5,157.5 L843.7,159.0 L843.9,160.5 L844.1,162.0 L844.3,163.5 L844.5,165.0 L844.7,166.5 L844.8,168.0 L845.0,169.5 L845.2,171.0 L845.4,172.5 L845.6,174.0 L845.8,175.5 L846.0,177.0 L846.2,178.5 L846.4,180.0 L846.6,181.5 L846.8,183.0 L847.0,184.5 L847.2,186.0 L847.4,187.4 L847.6,188.9 L847.9,190.4 L848.1,191.9 L848.3,193.4 L848.5,194.9 L848.8,196.4 L849.0,197.9 L849.2,199.4 L849.5,200.8 L849.7,202.3 L850.0,203.8 L850.2,205.3 L850.5,206.8 L850.7,208.2 L851.0,209.7 L851.3,211.2 L851.5,212.6 L851.8,214.1 L852.1,215.6 L852.4,217.0 L852.7,218.5 L853.0,219.9 L853.3,221.4 L853.6,222.8 L853.9,224.3 L854.3,225.7 L854.6,227.2 L854.9,228.6 L855.3,230.0 L855.6,231.5 L856.0,232.9 L856.4,234.3 L856.7,235.7 L857.1,237.2 L857.5,238.6 L857.9,240.0 L858.3,241.4 L858.8,242.8 L859.2,244.2 L859.7,245.6 L860.2,247.0 L860.8,248.4 L861.3,249.8 L861.9,251.1 L862.5,252.5 L863.1,253.9 L863.8,255.3 L864.5,256.6 L865.2,258.0 L866.0,259.3 L866.8,260.7 L867.6,262.0 L868.4,263.4 L869.2,264.7 L870.0,266.0 L870.8,267.4 L871.6,268.7 L872.4,270.0 L873.2,271.3 L874.0,272.6 L874.8,273.9 L875.5,275.2 L876.3,276.5 L877.0,277.8 L877.7,279.1 L878.4,280.4 L879.1,281.7 L879.8,282.9 L880.5,284.2 L881.1,285.5 L881.8,286.8 L882.4,288.1 L883.0,289.4 L883.6,290.7 L884.3,292.0 L884.9,293.3 L885.4,294.6 L886.0,295.9 L886.6,297.3 L887.2,298.6 L887.7,300.0 L888.3,301.4 L888.9,302.7 L889.4,304.1 L890.0,305.5 L890.5,307.0 L891.1,308.4 L891.6,309.8 L892.2,311.3 L892.8,312.7 L893.4,314.2 L894.0,315.6 L894.7,317.0 L895.4,318.4 L896.1,319.7 L896.9,321.1 L897.7,322.4 L898.5,323.7 L899.5,324.9 L900.4,326.1 L901.5,327.2 L902.6,328.2 L903.8,329.0 L905.0,329.7 L906.4,330.2 L907.8,330.6 L909.2,330.8 L910.7,330.9 L912.2,330.9 L913.8,330.9 L915.3,330.9 L916.8,331.0 L918.3,331.1 L919.8,331.3 L921.2,331.7 L922.6,332.1 L924.0,332.7 L925.3,333.3 L926.6,334.0 L927.9,334.8 L929.2,335.6 L930.4,336.5 L931.7,337.3 L933.0,338.1 L934.2,339.0 L935.5,339.8 L936.8,340.7 L938.0,341.5 L939.3,342.2 L940.6,343.0 L941.9,343.7 L943.3,344.3 L944.6,344.9 L946.0,345.5 L947.4,346.0 L948.8,346.4 L950.3,346.8 L951.7,347.2 L953.2,347.5 L954.7,347.7 L956.1,348.0 L957.6,348.2 L959.1,348.4 L960.7,348.6 L962.2,348.7 L963.7,348.9 L965.2,349.1 L966.7,349.2 L968.2,349.4 L969.7,349.6 L971.1,349.8 L972.6,350.1 L974.1,350.4 L975.5,350.8 L976.9,351.2 L978.3,351.7 L979.7,352.1 L981.1,352.7 L982.5,353.2 L983.9,353.8 L985.3,354.4 L986.6,354.9 L988.0,355.5 L989.4,356.1 L990.8,356.7 L992.2,357.2 L993.6,357.8 L995.0,358.3 L996.4,358.8 L997.9,359.3 L999.3,359.8 L1000.8,360.2 L1002.2,360.6 L1003.7,360.9 L1005.1,361.2 L1006.6,361.5 L1008.1,361.8 L1009.5,362.0 L1011.0,362.2 L1012.5,362.3 L1014.0,362.4 L1015.5,362.5 L1017.0,362.6 L1018.5,362.6 L1019.9,362.6 L1021.4,362.6 L1022.9,362.6 L1024.4,362.6 L1025.9,362.6 L1027.5,362.6 L1029.0,362.6 L1030.5,362.6 L1032.0,362.6 L1033.5,362.6 L1035.0,362.6 L1036.5,362.5 L1038.0,362.5 L1039.5,362.5 L1041.0,362.5 L1042.5,362.5 L1044.0,362.5 L1045.5,362.5 L1047.0,362.5 L1048.5,362.5 L1050.0,362.4 L1051.5,362.4 L1053.0,362.4 L1054.5,362.4 L1056.0,362.4 L1057.5,362.4 L1059.0,362.4 L1060.5,362.4 L1062.0,362.4 L1063.5,362.4 L1065.0,362.4 L1066.5,362.4 L1068.0,362.4 L1069.5,362.4 L1071.0,362.4 L1072.5,362.4 L1074.0,362.4 L1075.5,362.4 L1077.0,362.4 L1078.5,362.4 L1080.0,362.4 L1081.5,362.4 L1083.0,362.5 L1084.5,362.5 L1086.0,362.5 L1087.5,362.5 L1089.0,362.5 L1090.5,362.5 L1092.0,362.5 L1093.5,362.5 L1095.0,362.5 L1096.5,362.5 L1098.0,362.5 L1099.5,362.5 L1101.0,362.5 L1102.5,362.5 L1104.0,362.5 L1105.5,362.5 L1107.0,362.5 L1108.5,362.5 L1110.0,362.5 L1111.5,362.5 L1113.0,362.5 L1114.5,362.5 L1116.0,362.5 L1117.5,362.5 L1119.0,362.5 L1120.5,362.5 L1122.0,362.5 L1123.5,362.5 L1125.0,362.5 L1126.5,362.5 L1128.0,362.5 L1129.5,362.5 L1131.0,362.5 L1132.5,362.5 L1134.0,362.5 L1135.5,362.5 L1137.0,362.5 L1138.5,362.5 L1140.0,362.5 L1141.5,362.5 L1143.0,362.5 L1144.5,362.5 L1146.0,362.5 L1147.5,362.5 L1149.0,362.5 L1150.5,362.5 L1152.0,362.5 L1153.5,362.5 L1155.0,362.5 L1156.5,362.5 L1158.0,362.5 L1159.5,362.5 L1161.0,362.5 L1162.5,362.5 L1164.0,362.5 L1165.5,362.5 L1167.0,362.5 L1168.5,362.5 L1170.0,362.5 L1171.5,362.5 L1173.0,362.5 L1174.5,362.5 L1176.0,362.5 L1177.5,362.5 L1179.0,362.5 L1180.5,362.5 L1182.0,362.5 L1183.5,362.5 L1185.0,362.5 L1186.5,362.5 L1188.0,362.5 L1189.5,362.5 L1191.0,362.5 L1192.5,362.5 L1194.0,362.5 L1195.5,362.5 L1197.0,362.5 L1198.5,362.5 L1200.0,362.5 L1201.5,362.5 L1203.0,362.5 L1204.5,362.5 L1206.0,362.5 L1207.5,362.5 L1209.0,362.5 L1210.5,362.5 L1212.0,362.5 L1213.5,362.5 L1215.0,362.5 L1216.5,362.5 L1218.0,362.5 L1219.5,362.5 L1221.0,362.5 L1222.5,362.5 L1224.0,362.5 L1225.5,362.5 L1227.0,362.5 L1228.5,362.5 L1230.0,362.5 L1231.5,362.5 L1233.0,362.5 L1234.5,362.5 L1236.0,362.5 L1237.5,362.5 L1239.0,362.5 L1240.5,362.5 L1242.0,362.5 L1243.5,362.5 L1245.0,362.5 L1246.5,362.5 L1248.0,362.5 L1249.5,362.5 L1251.0,362.5 L1252.5,362.5 L1254.0,362.5 L1255.5,362.5 L1257.0,362.5 L1258.5,362.5 L1260.0,362.5 L1261.5,362.5 L1263.0,362.5 L1264.5,362.5 L1266.0,362.5 L1267.5,362.5 L1269.0,362.5 L1270.5,362.5 L1272.0,362.5 L1273.5,362.5 L1275.0,362.5 L1276.5,362.5 L1278.0,362.5 L1279.5,362.5 L1281.0,362.5 L1282.5,362.5 L1284.0,362.5 L1285.5,362.5 L1287.0,362.5 L1288.5,362.5 L1290.0,362.5 L1291.5,362.5 L1293.0,362.5 L1294.5,362.5 L1296.0,362.5 L1297.5,362.5 L1299.0,362.5 L1300.5,362.5 L1302.0,362.5 L1303.5,362.5 L1305.0,362.5 L1306.5,362.5 L1308.0,362.5 L1309.5,362.5 L1311.0,362.5 L1312.5,362.5 L1314.0,362.5 L1315.5,362.5 L1317.0,362.5 L1318.5,362.5 L1318.5,362.5 L1318.50,362.60 Z" fill="rgb(231,58,8)" fill-opacity="0.467" stroke="#d62728" stroke-width="3.40" stroke-linejoin="round"/>
<line x1="910.50" y1="225.80" x2="910.50" y2="407.90" stroke="#1f77b4" stroke-width="3"/>
<rect x="903.00" y="368.70" width="15" height="15" fill="#1f77b4"/>
<line x1="833.80" y1="62.50" x2="833.80" y2="407.90" stroke="#d62728" stroke-width="3"/>
<rect x="826.30" y="368.70" width="15" height="15" fill="#d62728"/>
<text x="890.60" y="453.10" font-size="32.5" text-anchor="middle" fill="#000">median</text>
<rect x="750.70" y="43.90" width="593.70" height="427.20" fill="none" stroke="#000" stroke-width="2.1"/>
</g>
<g>
<path d="M163.20,809.30 L163.2,808.6 L164.7,808.5 L166.1,808.3 L167.6,808.1 L169.1,808.0 L170.5,807.8 L172.0,807.6 L173.5,807.4 L174.9,807.2 L176.4,807.0 L177.9,806.7 L179.4,806.5 L180.9,806.2 L182.4,805.9 L183.9,805.6 L185.3,805.3 L186.8,805.0 L188.3,804.7 L189.8,804.3 L191.3,803.9 L192.7,803.6 L194.2,803.2 L195.7,802.7 L197.1,802.3 L198.6,801.9 L200.0,801.4 L201.4,800.9 L202.9,800.4 L204.3,799.9 L205.7,799.3 L207.1,798.7 L208.4,798.2 L209.8,797.6 L211.1,796.9 L212.5,796.3 L213.8,795.6 L215.1,794.9 L216.4,794.2 L217.7,793.5 L219.0,792.7 L220.3,792.0 L221.5,791.2 L222.8,790.4 L224.0,789.6 L225.2,788.7 L226.5,787.9 L227.7,787.0 L228.9,786.2 L230.1,785.3 L231.2,784.4 L232.4,783.4 L233.6,782.5 L234.7,781.6 L235.9,780.6 L237.0,779.6 L238.2,778.7 L239.3,777.7 L240.4,776.7 L241.6,775.7 L242.7,774.7 L243.8,773.6 L244.9,772.6 L246.0,771.6 L247.1,770.5 L248.2,769.5 L249.2,768.4 L250.3,767.3 L251.4,766.3 L252.5,765.2 L253.6,764.1 L254.6,763.0 L255.7,762.0 L256.8,760.9 L257.9,759.8 L259.0,758.8 L260.0,757.8 L261.1,756.7 L262.2,755.7 L263.3,754.7 L264.4,753.7 L265.5,752.7 L266.6,751.7 L267.8,750.7 L268.9,749.7 L270.0,748.7 L271.2,747.7 L272.4,746.7 L273.5,745.7 L274.7,744.7 L275.9,743.7 L277.2,742.8 L278.4,742.0 L279.6,741.2 L280.9,740.4 L282.2,739.8 L283.5,739.2 L284.8,738.7 L286.1,738.3 L287.5,738.0 L288.9,737.9 L290.3,737.8 L291.7,737.9 L293.1,738.1 L294.5,738.4 L296.0,738.8 L297.4,739.3 L298.8,739.8 L300.3,740.4 L301.7,741.0 L303.1,741.7 L304.5,742.4 L305.9,743.1 L307.3,743.8 L308.7,744.5 L310.0,745.1 L311.4,745.8 L312.8,746.4 L314.2,747.0 L315.6,747.6 L316.9,748.2 L318.3,748.7 L319.7,749.2 L321.1,749.8 L322.5,750.3 L323.9,750.8 L325.3,751.3 L326.6,751.7 L328.0,752.2 L329.4,752.7 L330.8,753.2 L332.2,753.7 L333.6,754.1 L335.1,754.6 L336.5,755.1 L337.9,755.6 L339.3,756.2 L340.7,756.7 L342.1,757.2 L343.5,757.8 L344.9,758.3 L346.3,758.9 L347.7,759.5 L349.0,760.2 L350.4,760.8 L351.7,761.5 L353.0,762.2 L354.4,763.0 L355.6,763.7 L356.9,764.5 L358.1,765.4 L359.3,766.3 L360.5,767.2 L361.7,768.1 L362.8,769.1 L364.0,770.1 L365.0,771.1 L366.1,772.2 L367.2,773.3 L368.2,774.4 L369.2,775.5 L370.2,776.6 L371.2,777.8 L372.2,778.9 L373.2,780.1 L374.1,781.2 L375.1,782.4 L376.0,783.5 L376.9,784.7 L377.9,785.8 L378.9,786.9 L379.8,788.0 L380.8,789.1 L381.9,790.1 L382.9,791.1 L384.0,792.1 L385.2,793.1 L386.4,794.0 L387.6,794.9 L388.8,795.8 L390.1,796.6 L391.5,797.4 L392.8,798.1 L394.2,798.8 L395.6,799.5 L397.0,800.1 L398.4,800.7 L399.9,801.2 L401.3,801.7 L402.8,802.1 L404.3,802.4 L405.7,802.8 L407.2,803.0 L408.7,803.2 L410.1,803.4 L411.6,803.5 L413.1,803.6 L414.5,803.6 L416.0,803.6 L417.5,803.6 L419.0,803.5 L420.4,803.5 L421.9,803.3 L423.4,803.2 L424.8,803.0 L426.3,802.9 L427.8,802.7 L429.3,802.5 L430.7,802.2 L432.2,802.0 L433.7,801.8 L435.2,801.5 L436.7,801.3 L438.1,801.1 L439.6,800.9 L441.1,800.7 L442.6,800.5 L444.0,800.3 L445.5,800.2 L447.0,800.1 L448.5,800.1 L450.0,800.0 L451.5,800.1 L452.9,800.2 L454.4,800.3 L455.9,800.4 L457.4,800.6 L458.9,800.9 L460.4,801.1 L461.8,801.4 L463.3,801.7 L464.8,802.0 L466.3,802.3 L467.8,802.7 L469.3,803.0 L470.8,803.3 L472.2,803.7 L473.7,804.0 L475.2,804.4 L476.7,804.7 L478.2,805.0 L479.7,805.3 L481.2,805.5 L482.7,805.8 L484.2,806.0 L485.6,806.2 L487.1,806.4 L488.6,806.5 L490.1,806.7 L491.6,806.8 L493.1,807.0 L494.6,807.1 L496.1,807.2 L497.6,807.3 L499.1,807.4 L500.6,807.5 L502.1,807.6 L503.6,807.7 L505.0,807.8 L506.5,807.9 L508.0,808.0 L509.5,808.0 L511.0,808.1 L512.5,808.2 L514.0,808.2 L515.5,808.3 L517.0,808.3 L518.5,808.4 L520.0,808.4 L521.5,808.5 L523.0,808.5 L524.5,808.6 L526.0,808.6 L527.5,808.6 L529.0,808.7 L530.5,808.7 L532.0,808.8 L533.5,808.8 L535.0,808.8 L536.5,808.8 L538.0,808.9 L539.5,808.9 L540.9,808.9 L542.4,809.0 L543.9,809.0 L545.4,809.0 L546.9,809.0 L548.4,809.1 L549.9,809.1 L551.4,809.1 L552.9,809.1 L554.4,809.1 L555.9,809.2 L557.4,809.2 L558.9,809.2 L560.4,809.2 L561.9,809.2 L563.4,809.2 L564.9,809.2 L566.4,809.3 L567.9,809.3 L569.4,809.3 L570.9,809.3 L572.4,809.3 L573.9,809.3 L575.4,809.3 L576.9,809.3 L578.4,809.3 L579.9,809.3 L581.4,809.3 L582.9,809.3 L584.4,809.3 L585.9,809.3 L587.4,809.3 L588.9,809.3 L590.4,809.3 L591.9,809.3 L593.4,809.3 L594.9,809.3 L596.4,809.3 L597.9,809.3 L599.4,809.3 L600.9,809.3 L602.4,809.3 L603.9,809.3 L605.4,809.3 L606.9,809.3 L608.4,809.3 L609.9,809.3 L611.4,809.3 L612.9,809.3 L614.4,809.3 L615.9,809.3 L617.4,809.3 L618.9,809.3 L620.4,809.3 L621.9,809.3 L623.4,809.3 L624.9,809.3 L626.4,809.3 L627.9,809.3 L629.4,809.3 L630.9,809.3 L632.4,809.3 L633.9,809.3 L635.5,809.3 L637.0,809.3 L638.5,809.3 L640.0,809.3 L641.5,809.3 L643.0,809.3 L644.5,809.3 L646.0,809.3 L647.5,809.3 L649.0,809.3 L650.5,809.3 L652.0,809.3 L653.5,809.3 L655.0,809.3 L656.5,809.2 L658.0,809.2 L659.5,809.2 L661.0,809.2 L662.5,809.2 L664.0,809.2 L665.5,809.2 L667.0,809.2 L668.5,809.2 L670.0,809.2 L671.5,809.2 L673.0,809.2 L674.5,809.2 L676.0,809.2 L677.5,809.2 L679.0,809.2 L680.5,809.2 L682.0,809.3 L683.5,809.3 L685.0,809.3 L686.5,809.3 L688.0,809.3 L689.4,809.3 L690.9,809.3 L692.4,809.3 L693.9,809.3 L695.4,809.3 L696.9,809.3 L698.4,809.3 L699.9,809.3 L701.4,809.3 L702.9,809.3 L704.4,809.3 L705.1,809.3 L705.10,809.30 Z" fill="rgb(56,101,183)" fill-opacity="0.450" stroke="#1f77b4" stroke-width="3.40" stroke-linejoin="round"/>
<path d="M163.20,809.30 L163.2,805.6 L164.7,805.1 L166.0,804.5 L167.4,804.1 L168.8,803.6 L170.2,803.2 L171.7,802.7 L173.1,802.4 L174.6,802.0 L176.0,801.6 L177.5,801.3 L179.0,800.9 L180.5,800.6 L181.9,800.3 L183.4,800.0 L184.9,799.7 L186.4,799.3 L187.9,799.0 L189.4,798.7 L190.9,798.3 L192.4,798.0 L193.8,797.6 L195.3,797.2 L196.8,796.8 L198.2,796.4 L199.6,795.9 L201.1,795.4 L202.5,794.9 L203.8,794.4 L205.2,793.8 L206.5,793.2 L207.9,792.5 L209.2,791.8 L210.5,791.1 L211.7,790.4 L213.0,789.6 L214.2,788.8 L215.4,787.9 L216.6,787.0 L217.8,786.1 L218.9,785.2 L220.0,784.2 L221.2,783.3 L222.2,782.3 L223.3,781.2 L224.4,780.2 L225.4,779.1 L226.4,778.0 L227.4,776.9 L228.4,775.7 L229.3,774.6 L230.2,773.4 L231.2,772.2 L232.1,771.0 L232.9,769.7 L233.8,768.5 L234.6,767.2 L235.4,766.0 L236.2,764.7 L237.0,763.4 L237.8,762.1 L238.5,760.8 L239.3,759.5 L240.0,758.1 L240.7,756.8 L241.4,755.4 L242.1,754.1 L242.8,752.7 L243.5,751.4 L244.2,750.0 L244.9,748.7 L245.7,747.3 L246.4,746.0 L247.1,744.6 L247.9,743.3 L248.6,742.0 L249.4,740.7 L250.2,739.4 L251.1,738.1 L251.9,736.9 L252.8,735.8 L253.8,734.6 L254.8,733.5 L255.8,732.5 L256.9,731.5 L258.1,730.5 L259.3,729.6 L260.6,728.8 L261.9,728.0 L263.3,727.3 L264.7,726.7 L266.1,726.3 L267.5,725.9 L268.9,725.7 L270.3,725.6 L271.7,725.7 L273.0,725.9 L274.4,726.3 L275.6,726.8 L276.9,727.3 L278.1,728.0 L279.4,728.8 L280.6,729.7 L281.8,730.6 L283.0,731.6 L284.1,732.6 L285.3,733.7 L286.5,734.7 L287.6,735.8 L288.8,737.0 L290.0,738.0 L291.1,739.1 L292.3,740.2 L293.5,741.2 L294.7,742.2 L295.9,743.2 L297.1,744.1 L298.4,745.0 L299.6,745.8 L300.9,746.5 L302.1,747.2 L303.4,747.9 L304.7,748.4 L306.1,748.9 L307.4,749.3 L308.8,749.6 L310.2,749.8 L311.6,750.0 L313.0,750.1 L314.5,750.1 L316.0,750.1 L317.5,750.0 L319.0,749.8 L320.5,749.7 L322.1,749.5 L323.6,749.3 L325.2,749.1 L326.8,748.9 L328.3,748.8 L329.8,748.7 L331.4,748.6 L332.9,748.6 L334.4,748.7 L335.8,748.9 L337.2,749.2 L338.6,749.5 L340.0,750.0 L341.4,750.5 L342.7,751.1 L344.0,751.8 L345.3,752.5 L346.5,753.3 L347.7,754.1 L348.9,755.0 L350.1,756.0 L351.3,757.0 L352.4,758.0 L353.5,759.0 L354.6,760.1 L355.7,761.2 L356.8,762.3 L357.8,763.5 L358.8,764.6 L359.9,765.7 L360.8,766.9 L361.8,768.0 L362.8,769.1 L363.7,770.3 L364.7,771.4 L365.6,772.6 L366.5,773.7 L367.5,774.9 L368.4,776.0 L369.3,777.2 L370.2,778.3 L371.2,779.5 L372.1,780.7 L373.0,781.9 L374.0,783.0 L375.0,784.2 L375.9,785.4 L376.9,786.5 L377.9,787.6 L378.9,788.8 L380.0,789.9 L381.0,790.9 L382.1,792.0 L383.2,793.0 L384.3,794.0 L385.4,795.0 L386.6,796.0 L387.8,796.9 L389.0,797.7 L390.2,798.6 L391.5,799.4 L392.8,800.1 L394.1,800.8 L395.4,801.4 L396.8,802.0 L398.2,802.5 L399.6,803.0 L401.0,803.5 L402.5,803.9 L403.9,804.3 L405.4,804.6 L406.9,805.0 L408.3,805.3 L409.8,805.6 L411.3,805.8 L412.8,806.1 L414.3,806.3 L415.8,806.5 L417.3,806.7 L418.7,806.9 L420.2,807.1 L421.7,807.3 L423.2,807.4 L424.7,807.5 L426.2,807.7 L427.7,807.8 L429.2,807.9 L430.7,808.0 L432.2,808.1 L433.7,808.2 L435.2,808.2 L436.7,808.3 L438.2,808.4 L439.7,808.4 L441.2,808.5 L442.7,808.5 L444.2,808.5 L445.7,808.6 L447.2,808.6 L448.7,808.7 L450.2,808.7 L451.7,808.7 L453.2,808.8 L454.7,808.8 L456.2,808.8 L457.7,808.9 L459.2,808.9 L460.7,808.9 L462.2,808.9 L463.7,809.0 L465.2,809.0 L466.7,809.0 L468.2,809.0 L469.7,809.0 L471.2,809.1 L472.7,809.1 L474.2,809.1 L475.7,809.1 L477.2,809.1 L478.7,809.1 L480.2,809.2 L481.7,809.2 L483.2,809.2 L484.7,809.2 L486.2,809.2 L487.7,809.2 L489.2,809.2 L490.7,809.2 L492.2,809.2 L493.7,809.3 L495.2,809.3 L496.7,809.3 L498.2,809.3 L499.7,809.3 L501.2,809.3 L502.7,809.3 L504.2,809.3 L505.7,809.3 L507.2,809.3 L508.7,809.3 L510.2,809.3 L511.7,809.3 L513.2,809.3 L514.7,809.3 L516.2,809.3 L517.7,809.3 L519.2,809.3 L520.7,809.3 L522.2,809.3 L523.7,809.3 L525.2,809.3 L526.7,809.3 L528.2,809.3 L529.7,809.3 L531.2,809.3 L532.7,809.3 L534.2,809.3 L535.7,809.3 L537.2,809.3 L538.7,809.3 L540.2,809.3 L541.7,809.3 L543.2,809.3 L544.7,809.3 L546.2,809.3 L547.7,809.3 L549.2,809.3 L550.7,809.3 L552.2,809.3 L553.7,809.3 L555.2,809.3 L556.7,809.3 L558.2,809.3 L559.7,809.3 L561.2,809.3 L562.7,809.3 L564.2,809.3 L565.7,809.3 L567.2,809.3 L568.7,809.3 L570.2,809.3 L571.7,809.3 L573.2,809.3 L574.7,809.3 L576.2,809.3 L577.7,809.3 L579.2,809.3 L580.7,809.3 L582.2,809.3 L583.7,809.3 L585.2,809.3 L586.7,809.3 L588.2,809.3 L589.7,809.3 L591.2,809.3 L592.7,809.3 L594.2,809.3 L595.7,809.3 L597.2,809.3 L598.7,809.3 L600.2,809.3 L601.7,809.3 L603.2,809.3 L604.7,809.3 L606.2,809.3 L607.7,809.3 L609.2,809.3 L610.7,809.3 L612.2,809.3 L613.7,809.3 L615.2,809.3 L616.7,809.3 L618.2,809.3 L619.7,809.3 L621.2,809.3 L622.7,809.3 L624.2,809.3 L625.7,809.3 L627.2,809.3 L628.7,809.3 L630.2,809.3 L631.7,809.3 L633.2,809.3 L634.7,809.3 L636.2,809.3 L637.7,809.3 L639.2,809.3 L640.7,809.3 L642.2,809.3 L643.7,809.3 L645.2,809.3 L646.7,809.3 L648.2,809.3 L649.7,809.3 L651.2,809.3 L652.7,809.3 L654.2,809.3 L655.7,809.3 L657.2,809.3 L658.7,809.3 L660.2,809.3 L661.7,809.3 L663.2,809.3 L664.7,809.3 L666.2,809.3 L667.7,809.3 L669.2,809.3 L670.7,809.3 L672.2,809.3 L673.7,809.3 L675.2,809.3 L676.7,809.3 L678.2,809.3 L679.7,809.3 L681.2,809.3 L682.7,809.3 L684.2,809.3 L685.7,809.3 L687.2,809.3 L688.7,809.3 L690.2,809.3 L691.7,809.3 L693.2,809.3 L694.7,809.3 L696.2,809.3 L697.7,809.3 L699.2,809.3 L700.7,809.3 L702.2,809.3 L703.7,809.3 L705.1,809.3 L705.10,809.30 Z" fill="rgb(243,110,20)" fill-opacity="0.454" stroke="#ff7f0e" stroke-width="3.40" stroke-linejoin="round"/>
<path d="M163.20,809.30 L163.2,807.6 L164.7,807.4 L166.3,807.1 L167.8,806.7 L169.2,806.2 L170.6,805.7 L172.0,805.1 L173.3,804.5 L174.6,803.8 L175.8,803.1 L177.1,802.3 L178.3,801.4 L179.4,800.5 L180.6,799.6 L181.7,798.6 L182.8,797.6 L183.9,796.6 L184.9,795.5 L186.0,794.4 L187.0,793.3 L188.0,792.2 L189.0,791.0 L190.0,789.9 L191.0,788.7 L191.9,787.5 L192.9,786.4 L193.9,785.2 L194.8,784.0 L195.8,782.8 L196.8,781.7 L197.7,780.5 L198.7,779.4 L199.6,778.2 L200.6,777.0 L201.6,775.9 L202.5,774.7 L203.5,773.6 L204.4,772.4 L205.3,771.3 L206.3,770.1 L207.2,769.0 L208.1,767.8 L209.1,766.7 L210.0,765.5 L210.9,764.3 L211.8,763.1 L212.7,762.0 L213.6,760.8 L214.5,759.6 L215.4,758.4 L216.2,757.2 L217.1,755.9 L218.0,754.7 L218.8,753.5 L219.7,752.2 L220.5,751.0 L221.3,749.7 L222.1,748.4 L222.9,747.1 L223.7,745.8 L224.5,744.5 L225.3,743.2 L226.1,741.9 L226.9,740.6 L227.6,739.3 L228.4,738.0 L229.2,736.7 L229.9,735.4 L230.7,734.1 L231.4,732.8 L232.2,731.6 L232.9,730.3 L233.7,729.0 L234.5,727.8 L235.3,726.5 L236.1,725.3 L237.0,724.1 L237.8,722.9 L238.8,721.7 L239.7,720.5 L240.7,719.4 L241.8,718.3 L242.9,717.2 L244.0,716.2 L245.2,715.3 L246.4,714.4 L247.7,713.6 L249.0,713.0 L250.3,712.5 L251.7,712.1 L253.2,711.8 L254.6,711.7 L256.1,711.7 L257.7,711.6 L259.2,711.5 L260.7,711.4 L262.3,711.4 L263.9,711.4 L265.4,711.4 L266.9,711.6 L268.5,711.8 L269.9,712.0 L271.4,712.3 L272.8,712.8 L274.2,713.3 L275.5,713.8 L276.8,714.5 L278.0,715.3 L279.1,716.1 L280.2,717.1 L281.2,718.1 L282.2,719.1 L283.2,720.3 L284.1,721.4 L285.0,722.7 L285.9,723.9 L286.7,725.2 L287.5,726.5 L288.3,727.8 L289.0,729.2 L289.8,730.5 L290.5,731.8 L291.3,733.2 L292.0,734.6 L292.7,735.9 L293.4,737.3 L294.0,738.7 L294.7,740.0 L295.4,741.4 L296.0,742.8 L296.6,744.2 L297.3,745.5 L297.9,746.9 L298.5,748.3 L299.1,749.7 L299.7,751.1 L300.3,752.4 L300.9,753.8 L301.5,755.2 L302.1,756.5 L302.7,757.9 L303.3,759.3 L303.9,760.6 L304.5,762.0 L305.1,763.3 L305.6,764.7 L306.2,766.0 L306.9,767.3 L307.5,768.7 L308.1,770.0 L308.8,771.3 L309.5,772.6 L310.2,773.8 L311.0,775.1 L311.7,776.4 L312.6,777.6 L313.4,778.9 L314.3,780.1 L315.3,781.3 L316.3,782.5 L317.4,783.6 L318.5,784.7 L319.6,785.7 L320.8,786.6 L322.1,787.4 L323.3,788.0 L324.7,788.5 L326.0,788.8 L327.4,789.0 L328.9,789.0 L330.4,788.7 L331.9,788.3 L333.4,787.8 L335.0,787.3 L336.5,786.8 L338.1,786.3 L339.6,786.0 L341.1,785.8 L342.6,785.8 L344.0,785.9 L345.5,786.1 L346.9,786.4 L348.3,786.8 L349.7,787.3 L351.0,787.8 L352.4,788.4 L353.7,789.0 L355.1,789.6 L356.4,790.3 L357.8,790.9 L359.1,791.6 L360.4,792.3 L361.7,793.1 L363.1,793.8 L364.4,794.6 L365.7,795.4 L367.1,796.1 L368.4,796.9 L369.8,797.7 L371.1,798.5 L372.5,799.3 L373.9,800.0 L375.3,800.6 L376.6,801.2 L378.0,801.8 L379.4,802.3 L380.8,802.7 L382.2,803.0 L383.7,803.2 L385.1,803.4 L386.5,803.4 L387.9,803.5 L389.4,803.5 L390.8,803.4 L392.3,803.3 L393.7,803.1 L395.2,802.9 L396.7,802.7 L398.1,802.5 L399.6,802.2 L401.1,801.9 L402.6,801.6 L404.1,801.2 L405.6,800.9 L407.1,800.5 L408.6,800.2 L410.1,799.8 L411.6,799.4 L413.1,799.0 L414.6,798.7 L416.1,798.3 L417.6,797.9 L419.1,797.6 L420.5,797.2 L422.0,796.9 L423.5,796.6 L425.0,796.3 L426.5,796.1 L427.9,795.9 L429.4,795.8 L430.9,795.8 L432.3,795.8 L433.7,795.9 L435.2,796.0 L436.6,796.3 L438.0,796.6 L439.4,796.9 L440.9,797.4 L442.3,797.8 L443.7,798.3 L445.1,798.8 L446.5,799.4 L447.9,799.9 L449.3,800.5 L450.7,801.1 L452.1,801.7 L453.5,802.3 L454.9,802.9 L456.3,803.4 L457.7,804.0 L459.1,804.5 L460.5,805.0 L462.0,805.5 L463.4,806.0 L464.8,806.4 L466.3,806.8 L467.7,807.1 L469.2,807.4 L470.6,807.7 L472.1,807.9 L473.5,808.2 L475.0,808.4 L476.5,808.6 L478.0,808.7 L479.5,808.9 L480.9,809.0 L482.4,809.1 L483.9,809.1 L485.4,809.2 L486.9,809.3 L488.4,809.3 L489.9,809.3 L491.4,809.3 L492.9,809.3 L494.4,809.3 L495.9,809.3 L497.4,809.3 L498.9,809.3 L500.4,809.3 L501.9,809.3 L503.4,809.3 L504.9,809.3 L506.4,809.3 L508.0,809.3 L509.5,809.3 L511.0,809.3 L512.5,809.3 L514.0,809.3 L515.5,809.3 L517.0,809.3 L518.5,809.3 L520.0,809.3 L521.5,809.3 L523.0,809.3 L524.5,809.3 L526.0,809.3 L527.5,809.3 L529.0,809.3 L530.5,809.3 L532.0,809.3 L533.5,809.3 L535.0,809.3 L536.5,809.3 L538.0,809.3 L539.5,809.3 L541.0,809.3 L542.5,809.3 L544.0,809.3 L545.5,809.3 L547.0,809.3 L548.5,809.3 L550.0,809.3 L551.5,809.3 L553.0,809.3 L554.5,809.3 L556.0,809.3 L557.5,809.3 L559.0,809.3 L560.5,809.3 L562.0,809.3 L563.5,809.3 L565.0,809.3 L566.5,809.3 L568.0,809.3 L569.5,809.3 L571.0,809.3 L572.5,809.3 L574.0,809.3 L575.5,809.3 L577.0,809.3 L578.5,809.3 L580.0,809.3 L581.5,809.3 L583.0,809.3 L584.5,809.3 L586.0,809.3 L587.5,809.3 L589.0,809.3 L590.5,809.3 L592.0,809.3 L593.5,809.3 L595.0,809.3 L596.5,809.3 L598.0,809.3 L599.5,809.3 L601.0,809.3 L602.5,809.3 L604.0,809.3 L605.5,809.3 L607.0,809.3 L608.5,809.3 L610.0,809.3 L611.5,809.3 L613.0,809.3 L614.5,809.3 L616.0,809.3 L617.5,809.3 L619.0,809.3 L620.5,809.3 L622.0,809.3 L623.5,809.3 L625.0,809.3 L626.5,809.3 L628.0,809.3 L629.5,809.3 L631.0,809.3 L632.5,809.3 L634.0,809.3 L635.5,809.3 L637.0,809.3 L638.5,809.3 L640.0,809.3 L641.5,809.3 L643.0,809.3 L644.5,809.3 L646.0,809.3 L647.5,809.3 L649.0,809.3 L650.5,809.3 L652.0,809.3 L653.5,809.3 L655.0,809.3 L656.5,809.3 L658.0,809.3 L659.5,809.3 L661.0,809.3 L662.5,809.3 L664.0,809.3 L665.5,809.3 L667.0,809.3 L668.5,809.3 L670.0,809.3 L671.5,809.3 L673.0,809.3 L674.5,809.3 L676.0,809.3 L677.5,809.3 L679.0,809.3 L680.5,809.3 L682.0,809.3 L683.5,809.3 L685.0,809.3 L686.5,809.3 L688.0,809.3 L689.5,809.3 L691.0,809.3 L692.5,809.3 L694.0,809.3 L695.5,809.3 L697.0,809.3 L698.5,809.3 L700.0,809.3 L701.5,809.3 L703.0,809.3 L704.5,809.3 L705.1,809.3 L705.10,809.30 Z" fill="rgb(87,187,36)" fill-opacity="0.421" stroke="#2ca02c" stroke-width="3.40" stroke-linejoin="round"/>
<line x1="300.40" y1="716.20" x2="300.40" y2="854.60" stroke="#1f77b4" stroke-width="3"/>
<rect x="292.90" y="815.40" width="15" height="15" fill="#1f77b4"/>
<line x1="285.30" y1="703.20" x2="285.30" y2="854.60" stroke="#ff7f0e" stroke-width="3"/>
<rect x="277.80" y="815.40" width="15" height="15" fill="#ff7f0e"/>
<line x1="267.50" y1="689.30" x2="267.50" y2="854.60" stroke="#2ca02c" stroke-width="3"/>
<rect x="260.00" y="815.40" width="15" height="15" fill="#2ca02c"/>
<text x="292.40" y="899.70" font-size="32.5" text-anchor="middle" fill="#000">median</text>
<rect x="137.10" y="490.70" width="593.80" height="427.40" fill="none" stroke="#000" stroke-width="2.1"/>
</g>
<g>
<path d="M776.50,809.30 L776.5,799.4 L777.2,798.3 L778.2,797.1 L779.2,796.0 L780.1,794.8 L781.0,793.5 L781.9,792.3 L782.8,791.1 L783.6,789.8 L784.4,788.5 L785.2,787.3 L785.9,786.0 L786.6,784.6 L787.3,783.3 L788.0,782.0 L788.6,780.6 L789.3,779.3 L789.9,777.9 L790.5,776.6 L791.0,775.2 L791.6,773.8 L792.1,772.4 L792.6,771.0 L793.2,769.6 L793.6,768.2 L794.1,766.7 L794.6,765.3 L795.0,763.9 L795.5,762.4 L795.9,761.0 L796.3,759.6 L796.7,758.1 L797.1,756.7 L797.5,755.2 L797.9,753.8 L798.3,752.3 L798.7,750.9 L799.1,749.4 L799.4,748.0 L799.8,746.5 L800.1,745.0 L800.5,743.6 L800.9,742.1 L801.2,740.7 L801.5,739.2 L801.9,737.8 L802.2,736.3 L802.5,734.8 L802.9,733.4 L803.2,731.9 L803.5,730.5 L803.8,729.0 L804.1,727.5 L804.4,726.1 L804.7,724.6 L805.0,723.1 L805.3,721.7 L805.6,720.2 L805.9,718.7 L806.2,717.3 L806.5,715.8 L806.7,714.3 L807.0,712.9 L807.3,711.4 L807.5,709.9 L807.8,708.5 L808.1,707.0 L808.3,705.5 L808.6,704.0 L808.9,702.6 L809.1,701.1 L809.4,699.6 L809.6,698.1 L809.9,696.6 L810.1,695.1 L810.3,693.7 L810.6,692.2 L810.8,690.7 L811.1,689.2 L811.3,687.7 L811.5,686.2 L811.8,684.7 L812.0,683.2 L812.2,681.7 L812.4,680.2 L812.7,678.7 L812.9,677.2 L813.1,675.7 L813.3,674.2 L813.6,672.7 L813.8,671.2 L814.0,669.7 L814.2,668.2 L814.5,666.7 L814.7,665.2 L815.0,663.7 L815.3,662.3 L815.6,660.8 L815.9,659.3 L816.3,657.8 L816.6,656.4 L817.0,655.0 L817.4,653.5 L817.9,652.1 L818.4,650.7 L818.9,649.3 L819.5,647.9 L820.1,646.6 L820.7,645.3 L821.5,644.3 L822.3,643.7 L823.3,643.7 L824.4,644.2 L825.5,645.2 L826.4,646.3 L827.2,647.7 L827.8,649.1 L828.3,650.6 L828.7,652.1 L829.1,653.7 L829.4,655.3 L829.8,656.8 L830.1,658.4 L830.5,659.9 L830.8,661.4 L831.2,662.9 L831.5,664.4 L831.9,665.9 L832.2,667.4 L832.5,668.8 L832.9,670.3 L833.2,671.8 L833.6,673.2 L833.9,674.7 L834.2,676.1 L834.6,677.5 L834.9,679.0 L835.2,680.4 L835.5,681.8 L835.9,683.3 L836.2,684.7 L836.5,686.1 L836.8,687.5 L837.1,689.0 L837.4,690.4 L837.7,691.8 L838.0,693.3 L838.3,694.7 L838.6,696.2 L838.9,697.7 L839.1,699.1 L839.4,700.6 L839.7,702.1 L839.9,703.6 L840.2,705.1 L840.4,706.6 L840.7,708.1 L840.9,709.7 L841.1,711.2 L841.4,712.8 L841.6,714.4 L841.8,715.9 L842.1,717.5 L842.4,719.0 L842.8,720.5 L843.1,722.0 L843.6,723.4 L844.1,724.8 L844.7,726.1 L845.3,727.4 L846.1,728.6 L846.9,729.7 L847.8,730.7 L848.9,731.6 L850.1,732.3 L851.3,732.6 L852.8,732.6 L854.3,732.2 L855.8,731.7 L857.4,731.2 L858.9,730.8 L860.3,730.6 L861.7,730.8 L863.0,731.2 L864.2,731.8 L865.3,732.7 L866.4,733.7 L867.3,734.9 L868.3,736.2 L869.1,737.6 L869.9,738.9 L870.7,740.3 L871.4,741.7 L872.1,743.0 L872.8,744.4 L873.4,745.8 L874.0,747.1 L874.6,748.5 L875.2,749.8 L875.8,751.2 L876.4,752.6 L877.0,753.9 L877.6,755.3 L878.2,756.7 L878.7,758.0 L879.3,759.4 L879.8,760.8 L880.4,762.2 L880.9,763.6 L881.5,765.0 L882.0,766.3 L882.6,767.7 L883.1,769.1 L883.6,770.6 L884.1,772.0 L884.7,773.4 L885.2,774.8 L885.7,776.2 L886.2,777.7 L886.7,779.1 L887.2,780.5 L887.8,782.0 L888.3,783.4 L888.8,784.8 L889.4,786.2 L889.9,787.6 L890.5,789.0 L891.1,790.3 L891.7,791.7 L892.3,793.0 L892.9,794.4 L893.5,795.7 L894.2,796.9 L895.0,798.2 L895.8,799.4 L896.8,800.6 L897.8,801.8 L899.0,802.9 L900.2,803.9 L901.5,804.7 L902.9,805.4 L904.3,805.9 L905.7,806.3 L907.1,806.7 L908.6,807.0 L910.1,807.3 L911.5,807.6 L913.0,807.8 L914.5,808.0 L916.0,808.2 L917.4,808.4 L918.9,808.5 L920.4,808.7 L921.9,808.8 L923.4,808.9 L924.9,808.9 L926.4,809.0 L927.9,809.1 L929.4,809.1 L930.9,809.1 L932.4,809.2 L933.9,809.2 L935.4,809.2 L936.9,809.2 L938.4,809.2 L939.9,809.2 L941.4,809.2 L942.9,809.2 L944.4,809.2 L945.9,809.2 L947.4,809.2 L948.9,809.2 L950.4,809.2 L951.9,809.2 L953.4,809.2 L954.9,809.2 L956.4,809.2 L957.9,809.2 L959.4,809.2 L960.9,809.2 L962.4,809.2 L963.9,809.2 L965.4,809.2 L966.9,809.2 L968.4,809.2 L969.9,809.2 L971.4,809.2 L972.9,809.2 L974.4,809.2 L975.9,809.2 L977.4,809.2 L978.9,809.2 L980.4,809.2 L981.9,809.2 L983.4,809.2 L984.9,809.2 L986.4,809.2 L987.9,809.2 L989.4,809.2 L990.9,809.2 L992.4,809.2 L993.9,809.2 L995.4,809.2 L996.9,809.2 L998.4,809.2 L999.9,809.2 L1001.4,809.2 L1002.9,809.2 L1004.4,809.2 L1005.9,809.2 L1007.4,809.2 L1008.9,809.2 L1010.4,809.2 L1011.9,809.2 L1013.4,809.2 L1014.9,809.2 L1016.4,809.2 L1017.9,809.2 L1019.4,809.2 L1020.9,809.2 L1022.4,809.2 L1023.9,809.2 L1025.4,809.2 L1026.9,809.2 L1028.4,809.2 L1029.9,809.2 L1031.4,809.2 L1032.9,809.2 L1034.4,809.2 L1035.9,809.2 L1037.4,809.2 L1038.9,809.2 L1040.4,809.2 L1041.9,809.2 L1043.4,809.2 L1044.9,809.2 L1046.4,809.2 L1047.9,809.2 L1049.4,809.2 L1050.9,809.2 L1052.4,809.2 L1053.9,809.2 L1055.4,809.2 L1056.9,809.2 L1058.4,809.2 L1059.9,809.2 L1061.4,809.2 L1062.9,809.2 L1064.4,809.2 L1065.9,809.2 L1067.4,809.2 L1068.9,809.2 L1070.4,809.2 L1071.9,809.2 L1073.4,809.2 L1074.9,809.2 L1076.4,809.2 L1077.9,809.2 L1079.4,809.2 L1080.9,809.2 L1082.4,809.2 L1083.9,809.2 L1085.4,809.2 L1086.9,809.2 L1088.4,809.2 L1089.9,809.2 L1091.4,809.2 L1092.9,809.2 L1094.4,809.2 L1095.9,809.2 L1097.4,809.2 L1098.9,809.2 L1100.4,809.2 L1101.9,809.2 L1103.4,809.2 L1104.9,809.2 L1106.4,809.2 L1107.9,809.2 L1109.4,809.2 L1110.9,809.2 L1112.4,809.2 L1113.9,809.2 L1115.4,809.2 L1116.9,809.2 L1118.4,809.2 L1119.9,809.2 L1121.4,809.2 L1122.9,809.2 L1124.4,809.3 L1125.9,809.3 L1127.4,809.3 L1128.9,809.3 L1130.4,809.3 L1131.9,809.3 L1133.4,809.3 L1134.9,809.3 L1136.4,809.3 L1137.9,809.3 L1139.4,809.3 L1140.9,809.3 L1142.4,809.3 L1143.9,809.3 L1145.4,809.3 L1146.9,809.3 L1148.4,809.3 L1149.9,809.3 L1151.4,809.3 L1152.9,809.3 L1154.4,809.3 L1155.9,809.3 L1157.4,809.3 L1158.9,809.3 L1160.4,809.3 L1161.9,809.3 L1163.4,809.3 L1164.9,809.3 L1166.4,809.3 L1167.9,809.3 L1169.4,809.3 L1170.9,809.3 L1172.4,809.3 L1173.9,809.3 L1175.4,809.3 L1176.9,809.3 L1178.4,809.3 L1179.9,809.3 L1181.4,809.3 L1182.9,809.3 L1184.4,809.3 L1185.9,809.3 L1187.4,809.3 L1188.9,809.3 L1190.4,809.3 L1191.9,809.3 L1193.4,809.3 L1194.9,809.3 L1196.4,809.3 L1197.9,809.3 L1199.4,809.3 L1200.9,809.3 L1202.4,809.3 L1203.9,809.3 L1205.4,809.3 L1206.9,809.3 L1208.4,809.3 L1209.9,809.3 L1211.4,809.3 L1212.9,809.3 L1214.4,809.3 L1215.9,809.3 L1217.4,809.3 L1218.9,809.3 L1220.4,809.3 L1221.9,809.3 L1223.4,809.3 L1224.9,809.3 L1226.4,809.3 L1227.9,809.3 L1229.4,809.3 L1230.9,809.3 L1232.4,809.3 L1233.9,809.3 L1235.4,809.3 L1236.9,809.3 L1238.4,809.3 L1239.9,809.3 L1241.4,809.3 L1242.9,809.3 L1244.4,809.3 L1245.9,809.3 L1247.4,809.3 L1248.9,809.3 L1250.4,809.3 L1251.9,809.3 L1253.4,809.3 L1254.9,809.3 L1256.4,809.3 L1257.9,809.3 L1259.4,809.3 L1260.9,809.3 L1262.4,809.3 L1263.9,809.3 L1265.4,809.3 L1266.9,809.3 L1268.4,809.3 L1269.9,809.3 L1271.4,809.3 L1272.9,809.3 L1274.4,809.3 L1275.9,809.3 L1277.4,809.3 L1278.9,809.3 L1280.4,809.3 L1281.9,809.3 L1283.4,809.3 L1284.9,809.3 L1286.4,809.3 L1287.9,809.3 L1289.4,809.3 L1290.9,809.3 L1292.4,809.3 L1293.9,809.3 L1295.4,809.3 L1296.9,809.3 L1298.4,809.3 L1299.9,809.3 L1301.4,809.3 L1302.9,809.3 L1304.4,809.3 L1305.9,809.3 L1307.4,809.3 L1308.9,809.3 L1310.4,809.3 L1311.9,809.3 L1313.4,809.3 L1314.9,809.3 L1316.4,809.3 L1317.9,809.3 L1318.5,809.3 L1318.50,809.30 Z" fill="rgb(56,101,183)" fill-opacity="0.450" stroke="#1f77b4" stroke-width="3.40" stroke-linejoin="round"/>
<path d="M776.90,809.30 L776.9,798.1 L777.4,796.7 L777.9,795.3 L778.4,793.9 L778.9,792.4 L779.3,791.0 L779.8,789.5 L780.2,788.1 L780.7,786.7 L781.1,785.2 L781.5,783.8 L781.9,782.3 L782.3,780.9 L782.6,779.4 L783.0,778.0 L783.4,776.5 L783.7,775.0 L784.0,773.6 L784.4,772.1 L784.7,770.6 L785.0,769.2 L785.3,767.7 L785.5,766.2 L785.8,764.8 L786.1,763.3 L786.3,761.8 L786.6,760.4 L786.8,758.9 L787.1,757.4 L787.3,755.9 L787.5,754.5 L787.7,753.0 L788.0,751.5 L788.2,750.0 L788.4,748.5 L788.5,747.0 L788.7,745.6 L788.9,744.1 L789.1,742.6 L789.3,741.1 L789.4,739.6 L789.6,738.1 L789.8,736.6 L789.9,735.1 L790.1,733.6 L790.2,732.2 L790.4,730.7 L790.5,729.2 L790.7,727.7 L790.8,726.2 L790.9,724.7 L791.1,723.2 L791.2,721.7 L791.3,720.2 L791.5,718.7 L791.6,717.2 L791.7,715.7 L791.9,714.2 L792.0,712.7 L792.1,711.2 L792.3,709.7 L792.4,708.2 L792.5,706.7 L792.7,705.3 L792.8,703.8 L792.9,702.3 L793.1,700.8 L793.2,699.3 L793.4,697.8 L793.5,696.3 L793.6,694.8 L793.8,693.3 L793.9,691.8 L794.0,690.3 L794.2,688.8 L794.3,687.3 L794.4,685.8 L794.6,684.3 L794.7,682.8 L794.9,681.3 L795.0,679.8 L795.1,678.3 L795.3,676.8 L795.4,675.3 L795.5,673.8 L795.7,672.3 L795.8,670.8 L796.0,669.4 L796.1,667.9 L796.2,666.4 L796.4,664.9 L796.5,663.4 L796.7,661.9 L796.8,660.4 L797.0,658.9 L797.1,657.4 L797.2,655.9 L797.4,654.4 L797.5,652.9 L797.7,651.4 L797.8,649.9 L798.0,648.4 L798.1,646.9 L798.3,645.4 L798.4,644.0 L798.6,642.5 L798.7,641.0 L798.8,639.5 L799.0,638.0 L799.1,636.5 L799.3,635.0 L799.4,633.5 L799.6,632.0 L799.7,630.5 L799.9,629.0 L800.1,627.6 L800.2,626.1 L800.4,624.6 L800.5,623.1 L800.7,621.6 L800.8,620.1 L801.0,618.6 L801.1,617.1 L801.3,615.6 L801.5,614.2 L801.6,612.7 L801.8,611.2 L801.9,609.7 L802.1,608.2 L802.3,606.7 L802.4,605.2 L802.6,603.8 L802.7,602.3 L802.9,600.8 L803.1,599.3 L803.2,597.8 L803.4,596.3 L803.6,594.9 L803.7,593.4 L803.9,591.9 L804.1,590.4 L804.3,588.9 L804.4,587.4 L804.6,586.0 L804.8,584.5 L805.0,583.0 L805.2,581.5 L805.3,580.0 L805.5,578.5 L805.7,577.1 L805.9,575.6 L806.1,574.1 L806.4,572.6 L806.6,571.1 L806.8,569.6 L807.0,568.1 L807.3,566.6 L807.5,565.1 L807.8,563.6 L808.0,562.1 L808.3,560.6 L808.6,559.1 L808.8,557.5 L809.1,556.0 L809.4,554.5 L809.8,553.0 L810.1,551.4 L810.4,549.9 L810.8,548.4 L811.2,546.9 L811.8,545.6 L812.5,544.3 L813.3,543.2 L814.2,542.4 L815.2,542.3 L816.1,543.1 L817.0,544.5 L817.8,545.9 L818.6,547.3 L819.3,548.7 L820.0,550.2 L820.6,551.6 L821.1,553.0 L821.7,554.4 L822.2,555.9 L822.7,557.3 L823.1,558.7 L823.5,560.1 L823.9,561.5 L824.3,563.0 L824.7,564.4 L825.1,565.8 L825.4,567.2 L825.8,568.6 L826.1,570.1 L826.5,571.5 L826.9,572.9 L827.3,574.3 L827.7,575.7 L828.1,577.1 L828.5,578.6 L829.0,580.0 L829.4,581.4 L829.9,582.8 L830.3,584.2 L830.8,585.7 L831.2,587.1 L831.7,588.5 L832.2,589.9 L832.6,591.3 L833.1,592.8 L833.6,594.2 L834.1,595.6 L834.6,597.0 L835.1,598.5 L835.6,599.9 L836.0,601.3 L836.5,602.7 L837.0,604.2 L837.5,605.6 L838.0,607.0 L838.5,608.5 L839.0,609.9 L839.5,611.3 L839.9,612.7 L840.4,614.2 L840.9,615.6 L841.4,617.1 L841.9,618.5 L842.3,619.9 L842.8,621.4 L843.3,622.8 L843.7,624.2 L844.2,625.7 L844.7,627.1 L845.1,628.6 L845.6,630.0 L846.0,631.4 L846.5,632.9 L846.9,634.3 L847.3,635.8 L847.8,637.2 L848.2,638.7 L848.6,640.1 L849.0,641.6 L849.4,643.0 L849.8,644.5 L850.2,645.9 L850.6,647.4 L851.0,648.8 L851.4,650.3 L851.8,651.7 L852.1,653.2 L852.5,654.6 L852.8,656.1 L853.2,657.6 L853.5,659.0 L853.8,660.5 L854.2,661.9 L854.5,663.4 L854.8,664.8 L855.1,666.3 L855.4,667.8 L855.7,669.2 L855.9,670.7 L856.2,672.2 L856.5,673.6 L856.8,675.1 L857.0,676.6 L857.3,678.0 L857.5,679.5 L857.8,681.0 L858.0,682.4 L858.2,683.9 L858.5,685.4 L858.7,686.8 L858.9,688.3 L859.1,689.8 L859.3,691.3 L859.5,692.7 L859.7,694.2 L859.9,695.7 L860.1,697.2 L860.3,698.6 L860.5,700.1 L860.7,701.6 L860.9,703.1 L861.1,704.6 L861.3,706.0 L861.5,707.5 L861.7,709.0 L861.9,710.5 L862.0,712.0 L862.2,713.5 L862.4,714.9 L862.6,716.4 L862.8,717.9 L863.0,719.4 L863.1,720.9 L863.3,722.4 L863.5,723.9 L863.7,725.4 L863.9,726.9 L864.1,728.3 L864.3,729.8 L864.4,731.3 L864.6,732.8 L864.8,734.3 L865.0,735.8 L865.2,737.3 L865.4,738.8 L865.7,740.3 L865.9,741.8 L866.1,743.3 L866.3,744.8 L866.5,746.3 L866.8,747.8 L867.0,749.3 L867.2,750.8 L867.5,752.3 L867.8,753.8 L868.0,755.3 L868.3,756.8 L868.6,758.2 L869.0,759.7 L869.3,761.2 L869.7,762.6 L870.1,764.1 L870.5,765.5 L870.9,767.0 L871.3,768.4 L871.8,769.8 L872.3,771.2 L872.9,772.6 L873.4,774.0 L874.0,775.4 L874.6,776.7 L875.3,778.1 L876.0,779.4 L876.8,780.7 L877.5,782.0 L878.3,783.2 L879.2,784.5 L880.2,785.6 L881.2,786.7 L882.2,787.6 L883.4,788.5 L884.7,789.2 L886.1,789.7 L887.5,790.1 L889.1,790.3 L890.7,790.5 L892.2,790.9 L893.7,791.3 L895.1,791.8 L896.5,792.5 L897.8,793.2 L899.1,794.0 L900.3,794.8 L901.5,795.7 L902.6,796.6 L903.7,797.6 L904.9,798.5 L906.0,799.5 L907.2,800.4 L908.4,801.4 L909.6,802.2 L910.9,803.1 L912.2,803.9 L913.6,804.6 L914.9,805.3 L916.3,805.9 L917.7,806.5 L919.1,806.9 L920.5,807.3 L922.0,807.6 L923.4,807.9 L924.9,808.0 L926.4,808.2 L927.8,808.2 L929.3,808.2 L930.8,808.2 L932.3,808.0 L933.8,807.9 L935.3,807.7 L936.7,807.4 L938.2,807.1 L939.7,806.7 L941.1,806.4 L942.6,805.9 L944.0,805.4 L945.5,804.9 L946.9,804.3 L948.3,803.6 L949.6,802.9 L951.0,802.1 L952.3,801.4 L953.6,800.6 L955.0,799.9 L956.3,799.3 L957.7,798.9 L959.1,798.6 L960.5,798.6 L962.0,798.9 L963.5,799.5 L965.0,800.2 L966.5,801.0 L967.9,801.8 L969.3,802.5 L970.6,803.2 L971.9,803.8 L973.2,804.3 L974.5,804.8 L975.8,805.3 L977.1,805.7 L978.5,806.1 L979.9,806.4 L981.3,806.7 L982.8,807.0 L984.3,807.3 L985.8,807.5 L987.3,807.8 L988.8,808.0 L990.3,808.2 L991.8,808.4 L993.3,808.5 L994.8,808.7 L996.3,808.8 L997.8,808.9 L999.3,809.1 L1000.8,809.2 L1002.3,809.2 L1003.8,809.3 L1005.3,809.3 L1006.8,809.3 L1008.3,809.3 L1009.8,809.3 L1011.3,809.3 L1012.8,809.3 L1014.3,809.3 L1015.8,809.3 L1017.3,809.3 L1018.8,809.3 L1020.3,809.3 L1021.8,809.3 L1023.3,809.3 L1024.8,809.3 L1026.3,809.3 L1027.8,809.3 L1029.3,809.3 L1030.8,809.3 L1032.3,809.3 L1033.8,809.3 L1035.3,809.3 L1036.8,809.3 L1038.3,809.3 L1039.8,809.3 L1041.3,809.3 L1042.8,809.3 L1044.3,809.2 L1045.8,809.2 L1047.3,809.2 L1048.8,809.2 L1050.3,809.2 L1051.8,809.2 L1053.3,809.2 L1054.8,809.2 L1056.3,809.2 L1057.8,809.1 L1059.3,809.1 L1060.8,809.1 L1062.3,809.1 L1063.8,809.1 L1065.3,809.1 L1066.8,809.1 L1068.3,809.1 L1069.8,809.1 L1071.3,809.1 L1072.8,809.2 L1074.3,809.2 L1075.8,809.2 L1077.3,809.2 L1078.8,809.2 L1080.3,809.2 L1081.8,809.2 L1083.3,809.2 L1084.8,809.2 L1086.3,809.2 L1087.8,809.2 L1089.3,809.2 L1090.8,809.2 L1092.3,809.2 L1093.8,809.2 L1095.3,809.3 L1096.8,809.3 L1098.3,809.3 L1099.8,809.3 L1101.3,809.3 L1102.8,809.3 L1104.3,809.3 L1105.8,809.3 L1107.3,809.3 L1108.8,809.3 L1110.3,809.3 L1111.8,809.3 L1113.3,809.3 L1114.8,809.3 L1116.3,809.3 L1117.8,809.3 L1119.3,809.3 L1120.8,809.3 L1122.3,809.3 L1123.8,809.3 L1125.3,809.3 L1126.8,809.3 L1128.3,809.3 L1129.8,809.3 L1131.3,809.3 L1132.8,809.3 L1134.3,809.3 L1135.8,809.3 L1137.3,809.3 L1138.8,809.3 L1140.3,809.3 L1141.8,809.3 L1143.3,809.3 L1144.8,809.3 L1146.3,809.3 L1147.8,809.3 L1149.3,809.3 L1150.8,809.3 L1152.3,809.3 L1153.8,809.3 L1155.3,809.3 L1156.8,809.3 L1158.3,809.3 L1159.8,809.3 L1161.3,809.3 L1162.8,809.3 L1164.3,809.3 L1165.8,809.3 L1167.3,809.3 L1168.8,809.3 L1170.3,809.3 L1171.8,809.3 L1173.3,809.3 L1174.8,809.3 L1176.3,809.3 L1177.8,809.3 L1179.3,809.3 L1180.8,809.3 L1182.3,809.3 L1183.8,809.3 L1185.3,809.3 L1186.8,809.3 L1188.3,809.3 L1189.8,809.3 L1191.3,809.3 L1192.8,809.3 L1194.3,809.3 L1195.8,809.3 L1197.3,809.3 L1198.8,809.3 L1200.3,809.3 L1201.8,809.3 L1203.3,809.3 L1204.8,809.3 L1206.3,809.3 L1207.8,809.3 L1209.3,809.3 L1210.8,809.3 L1212.3,809.3 L1213.8,809.3 L1215.3,809.3 L1216.8,809.3 L1218.3,809.3 L1219.8,809.3 L1221.3,809.3 L1222.8,809.3 L1224.3,809.3 L1225.8,809.3 L1227.3,809.3 L1228.8,809.3 L1230.3,809.3 L1231.8,809.3 L1233.3,809.3 L1234.8,809.3 L1236.3,809.3 L1237.8,809.3 L1239.3,809.3 L1240.8,809.3 L1242.3,809.3 L1243.8,809.3 L1245.3,809.3 L1246.8,809.3 L1248.3,809.3 L1249.8,809.3 L1251.3,809.3 L1252.8,809.3 L1254.3,809.3 L1255.8,809.3 L1257.3,809.3 L1258.8,809.3 L1260.3,809.3 L1261.8,809.3 L1263.3,809.3 L1264.8,809.3 L1266.3,809.3 L1267.8,809.3 L1269.3,809.3 L1270.8,809.3 L1272.3,809.3 L1273.8,809.3 L1275.3,809.3 L1276.8,809.3 L1278.3,809.3 L1279.8,809.3 L1281.3,809.3 L1282.8,809.3 L1284.3,809.3 L1285.8,809.3 L1287.3,809.3 L1288.8,809.3 L1290.3,809.3 L1291.8,809.3 L1293.3,809.3 L1294.8,809.3 L1296.3,809.3 L1297.8,809.3 L1299.3,809.3 L1300.8,809.3 L1302.3,809.3 L1303.8,809.3 L1305.3,809.3 L1306.8,809.3 L1308.3,809.3 L1309.8,809.3 L1311.3,809.3 L1312.8,809.3 L1314.3,809.3 L1315.8,809.3 L1317.3,809.3 L1318.5,809.3 L1318.50,809.30 Z" fill="rgb(231,58,8)" fill-opacity="0.467" stroke="#d62728" stroke-width="3.40" stroke-linejoin="round"/>
<line x1="825.20" y1="621.00" x2="825.20" y2="854.60" stroke="#1f77b4" stroke-width="3"/>
<rect x="817.70" y="815.40" width="15" height="15" fill="#1f77b4"/>
<line x1="825.80" y1="520.10" x2="825.80" y2="854.60" stroke="#d62728" stroke-width="3"/>
<rect x="818.30" y="815.40" width="15" height="15" fill="#d62728"/>
<text x="831.50" y="899.60" font-size="32.5" text-anchor="middle" fill="#000">median</text>
<rect x="750.70" y="490.70" width="593.70" height="427.40" fill="none" stroke="#000" stroke-width="2.1"/>
</g>
<line x1="127.3" y1="362.60" x2="137.1" y2="362.60" stroke="#000" stroke-width="3.3"/>
<text transform="translate(120.5,375.80) scale(1,1.09)" font-size="35.5" text-anchor="end" fill="#4d4d4d">0.00</text>
<line x1="127.3" y1="250.30" x2="137.1" y2="250.30" stroke="#000" stroke-width="3.3"/>
<text transform="translate(120.5,263.50) scale(1,1.09)" font-size="35.5" text-anchor="end" fill="#4d4d4d">0.25</text>
<line x1="127.3" y1="138.00" x2="137.1" y2="138.00" stroke="#000" stroke-width="3.3"/>
<text transform="translate(120.5,151.20) scale(1,1.09)" font-size="35.5" text-anchor="end" fill="#4d4d4d">0.50</text>
<line x1="127.3" y1="809.30" x2="137.1" y2="809.30" stroke="#000" stroke-width="3.3"/>
<text transform="translate(120.5,822.50) scale(1,1.09)" font-size="35.5" text-anchor="end" fill="#4d4d4d">0.00</text>
<line x1="127.3" y1="697.00" x2="137.1" y2="697.00" stroke="#000" stroke-width="3.3"/>
<text transform="translate(120.5,710.20) scale(1,1.09)" font-size="35.5" text-anchor="end" fill="#4d4d4d">0.25</text>
<line x1="127.3" y1="584.70" x2="137.1" y2="584.70" stroke="#000" stroke-width="3.3"/>
<text transform="translate(120.5,597.90) scale(1,1.09)" font-size="35.5" text-anchor="end" fill="#4d4d4d">0.50</text>
<line x1="163.40" y1="918.1" x2="163.40" y2="927.9" stroke="#000" stroke-width="3.3"/>
<text transform="translate(163.40,960.5) scale(1,1.09)" font-size="35.5" text-anchor="middle" fill="#4d4d4d">0</text>
<line x1="298.83" y1="918.1" x2="298.83" y2="927.9" stroke="#000" stroke-width="3.3"/>
<text transform="translate(298.83,960.5) scale(1,1.09)" font-size="35.5" text-anchor="middle" fill="#4d4d4d">250</text>
<line x1="434.25" y1="918.1" x2="434.25" y2="927.9" stroke="#000" stroke-width="3.3"/>
<text transform="translate(434.25,960.5) scale(1,1.09)" font-size="35.5" text-anchor="middle" fill="#4d4d4d">500</text>
<line x1="569.68" y1="918.1" x2="569.68" y2="927.9" stroke="#000" stroke-width="3.3"/>
<text transform="translate(569.68,960.5) scale(1,1.09)" font-size="35.5" text-anchor="middle" fill="#4d4d4d">750</text>
<line x1="705.10" y1="918.1" x2="705.10" y2="927.9" stroke="#000" stroke-width="3.3"/>
<text transform="translate(705.10,960.5) scale(1,1.09)" font-size="35.5" text-anchor="middle" fill="#4d4d4d">1000</text>
<rect x="667.10" y="957.2" width="7.4" height="4.3" fill="#fff"/>
<rect x="677.70" y="957.2" width="7.0" height="4.3" fill="#fff"/>
<line x1="776.70" y1="918.1" x2="776.70" y2="927.9" stroke="#000" stroke-width="3.3"/>
<text transform="translate(776.70,960.5) scale(1,1.09)" font-size="35.5" text-anchor="middle" fill="#4d4d4d">0</text>
<line x1="912.15" y1="918.1" x2="912.15" y2="927.9" stroke="#000" stroke-width="3.3"/>
<text transform="translate(912.15,960.5) scale(1,1.09)" font-size="35.5" text-anchor="middle" fill="#4d4d4d">250</text>
<line x1="1047.60" y1="918.1" x2="1047.60" y2="927.9" stroke="#000" stroke-width="3.3"/>
<text transform="translate(1047.60,960.5) scale(1,1.09)" font-size="35.5" text-anchor="middle" fill="#4d4d4d">500</text>
<line x1="1183.05" y1="918.1" x2="1183.05" y2="927.9" stroke="#000" stroke-width="3.3"/>
<text transform="translate(1183.05,960.5) scale(1,1.09)" font-size="35.5" text-anchor="middle" fill="#4d4d4d">750</text>
<line x1="1318.50" y1="918.1" x2="1318.50" y2="927.9" stroke="#000" stroke-width="3.3"/>
<text transform="translate(1318.50,960.5) scale(1,1.09)" font-size="35.5" text-anchor="middle" fill="#4d4d4d">1000</text>
<rect x="1280.50" y="957.2" width="7.4" height="4.3" fill="#fff"/>
<rect x="1291.10" y="957.2" width="7.0" height="4.3" fill="#fff"/>
<text x="434" y="25.9" font-size="35.5" text-anchor="middle" fill="#1a1a1a">main dataset</text>
<text x="1047.5" y="25.9" font-size="35.5" text-anchor="middle" fill="#1a1a1a">validation dataset</text>
<text transform="translate(1362.8,257.4) rotate(90)" font-size="35.5" text-anchor="middle" fill="#1a1a1a">ruffled</text>
<text transform="translate(1362.8,704.4) rotate(90)" font-size="35.5" text-anchor="middle" fill="#1a1a1a">flat</text>
<text x="740.5" y="1003.6" font-size="35.5" text-anchor="middle" fill="#000">signal</text>
<text transform="translate(26.2,481) rotate(-90)" font-size="35.5" text-anchor="middle" fill="#000">number of cells per signal</text>
<text x="1455.5" y="365.8" font-size="35.5" fill="#000">trastuzumab</text>
<text x="1455.5" y="403.7" font-size="35.5" fill="#000">treatment</text>
<rect x="1459" y="419.95" width="46.1" height="46" fill="rgb(166,186,221)" stroke="#1f77b4" stroke-width="3.5"/>
<text x="1513.5" y="455.60" font-size="35.5" fill="#000">no</text>
<rect x="1459" y="471.00" width="46.1" height="46" fill="rgb(255,195,141)" stroke="#ff7f0e" stroke-width="3.5"/>
<text transform="translate(1513.5,506.65) scale(1,1.065)" font-size="35.5" fill="#000">2</text>
<text x="1543.11" y="506.65" font-size="35.5" fill="#000">min</text>
<rect x="1459" y="522.05" width="46.1" height="46" fill="rgb(189,229,158)" stroke="#2ca02c" stroke-width="3.5"/>
<text transform="translate(1513.5,557.70) scale(1,1.065)" font-size="35.5" fill="#000">5</text>
<text x="1543.11" y="557.70" font-size="35.5" fill="#000">min</text>
<rect x="1459" y="573.10" width="46.1" height="46" fill="rgb(243,164,140)" stroke="#d62728" stroke-width="3.5"/>
<text transform="translate(1513.5,608.75) scale(1,1.065)" font-size="35.5" fill="#000">60</text>
<text x="1562.85" y="608.75" font-size="35.5" fill="#000">min</text>
</svg>
</body></html>
